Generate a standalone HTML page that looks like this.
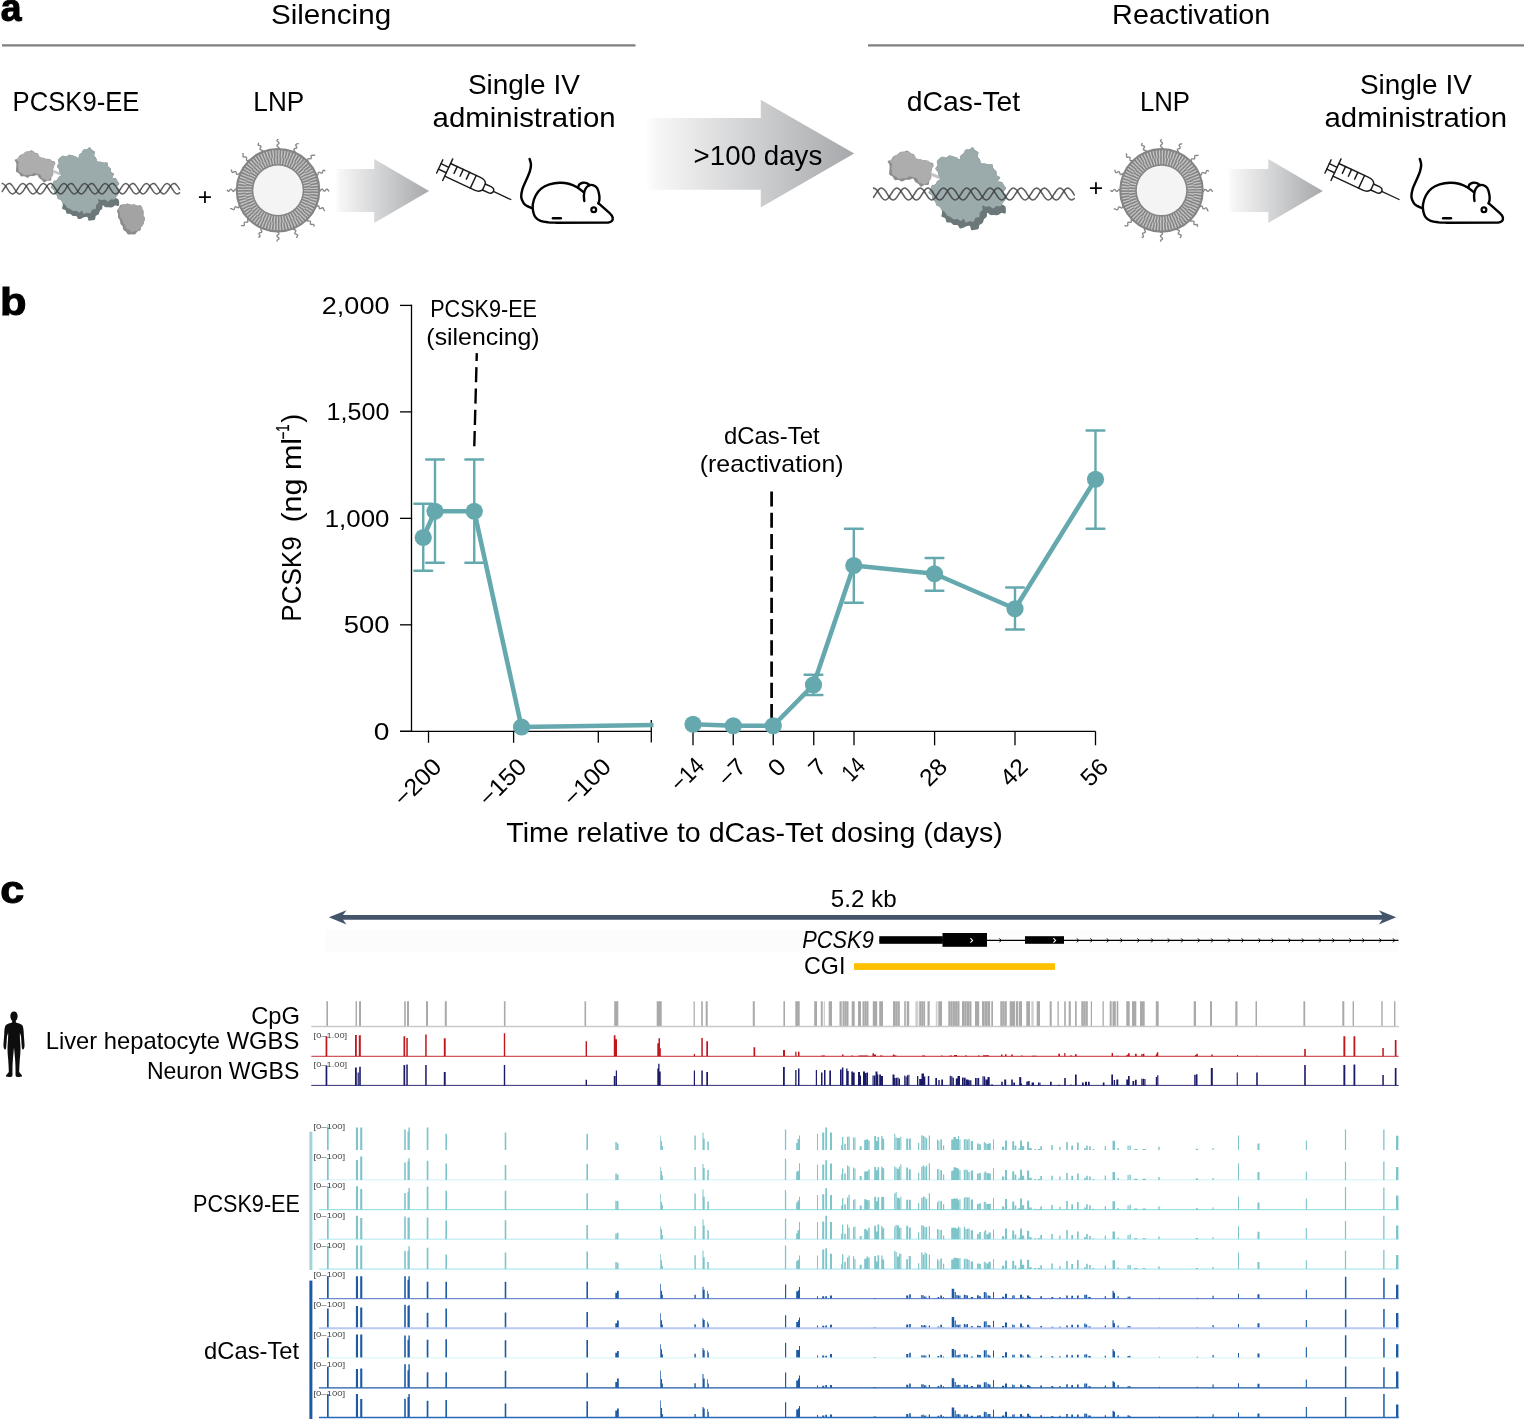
<!DOCTYPE html>
<html lang="en">
<head>
<meta charset="utf-8">
<title>PCSK9 epigenetic editing: silencing and reactivation</title>
<style>
html,body{margin:0;padding:0;background:#fff;}
body{width:1524px;height:1419px;overflow:hidden;}
svg{display:block;font-family:"Liberation Sans", "DejaVu Sans", sans-serif;}
text{white-space:pre;}
</style>
</head>
<body>
<svg width="1524" height="1419" viewBox="0 0 1524 1419">
<rect x="0" y="0" width="1524" height="1419" fill="#ffffff"/>
<defs><filter id="lblur" x="-10%" y="-10%" width="120%" height="120%"><feGaussianBlur stdDeviation="0.35"/></filter></defs>
<text x="0.71" y="21.00" font-size="38" textLength="20.76" lengthAdjust="spacingAndGlyphs" font-weight="bold" fill="#000" stroke="#000" stroke-width="1.0">a</text>
<text x="270.96" y="24.20" font-size="27.6" textLength="120.15" lengthAdjust="spacingAndGlyphs" fill="#000">Silencing</text>
<text x="1112.14" y="24.20" font-size="27.6" textLength="158.23" lengthAdjust="spacingAndGlyphs" fill="#000">Reactivation</text>
<path d="M2,45.4H635.5M868,45.4H1524" stroke="#808080" stroke-width="2.4" fill="none"/>
<text x="12.60" y="110.80" font-size="27.6" textLength="126.80" lengthAdjust="spacingAndGlyphs" fill="#000">PCSK9-EE</text>
<text x="253.36" y="110.80" font-size="27.6" textLength="50.82" lengthAdjust="spacingAndGlyphs" fill="#000">LNP</text>
<text x="467.93" y="93.80" font-size="27.6" textLength="111.89" lengthAdjust="spacingAndGlyphs" fill="#000">Single IV</text>
<text x="432.55" y="127.00" font-size="27.6" textLength="183.06" lengthAdjust="spacingAndGlyphs" fill="#000">administration</text>
<text x="906.84" y="110.80" font-size="27.6" textLength="113.36" lengthAdjust="spacingAndGlyphs" fill="#000">dCas-Tet</text>
<text x="1139.88" y="110.80" font-size="27.6" textLength="50.18" lengthAdjust="spacingAndGlyphs" fill="#000">LNP</text>
<text x="1359.93" y="93.80" font-size="27.6" textLength="111.89" lengthAdjust="spacingAndGlyphs" fill="#000">Single IV</text>
<text x="1324.55" y="127.00" font-size="27.6" textLength="182.65" lengthAdjust="spacingAndGlyphs" fill="#000">administration</text>
<g>
<path d="M52.50,170.83L61.67,174.58" stroke="#c2c2c2" stroke-width="2.6" fill="none"/>
<path d="M14.66,159.77C14.93,159.03 16.97,159.10 17.80,158.39C18.64,157.69 18.80,156.21 19.64,155.53C20.48,154.85 21.91,154.90 22.83,154.30C23.76,153.69 24.24,152.33 25.20,151.89C26.16,151.46 27.49,151.94 28.58,151.67C29.68,151.41 30.80,150.17 31.77,150.32C32.73,150.47 33.38,152.05 34.38,152.57C35.38,153.09 37.00,152.76 37.77,153.46C38.55,154.16 38.27,156.06 39.02,156.76C39.78,157.46 41.24,157.34 42.30,157.68C43.36,158.02 44.32,158.57 45.38,158.80C46.44,159.02 47.64,158.71 48.67,159.02C49.70,159.33 50.52,160.19 51.55,160.65C52.58,161.11 54.39,161.03 54.84,161.78C55.29,162.53 54.47,164.06 54.25,165.14C54.02,166.21 53.73,167.22 53.47,168.22C53.21,169.23 52.71,170.15 52.69,171.15C52.67,172.14 53.56,173.23 53.36,174.20C53.16,175.18 51.95,175.97 51.51,177.01C51.08,178.05 51.46,179.83 50.73,180.45C50.00,181.07 48.24,180.41 47.13,180.73C46.03,181.04 44.97,182.49 44.10,182.35C43.22,182.22 42.73,180.63 41.90,179.90C41.06,179.17 39.87,178.78 39.09,177.97C38.30,177.17 38.06,175.40 37.18,175.09C36.31,174.78 34.98,175.95 33.86,176.12C32.74,176.28 31.53,175.82 30.46,176.09C29.39,176.36 28.47,177.69 27.44,177.73C26.40,177.77 25.35,176.59 24.26,176.34C23.17,176.10 21.75,176.73 20.89,176.24C20.03,175.75 19.88,174.17 19.10,173.42C18.32,172.68 16.73,172.49 16.22,171.76C15.70,171.03 16.00,169.98 16.02,169.02C16.04,168.06 16.32,167.04 16.34,166.00C16.37,164.97 16.44,163.88 16.16,162.84C15.88,161.80 14.38,160.51 14.66,159.77Z" fill="#8d8d8d"/>
<path d="M16.28,159.44C16.36,158.68 18.43,158.39 19.21,157.60C19.98,156.82 20.15,155.41 20.95,154.71C21.75,154.00 23.05,153.95 23.99,153.38C24.94,152.82 25.63,151.63 26.64,151.30C27.64,150.97 28.92,151.45 30.03,151.39C31.13,151.33 32.32,150.66 33.27,150.96C34.23,151.26 34.89,152.55 35.78,153.19C36.68,153.84 37.87,154.10 38.65,154.84C39.44,155.58 39.61,157.17 40.47,157.66C41.32,158.14 42.75,157.48 43.81,157.76C44.87,158.03 45.73,159.09 46.81,159.31C47.90,159.53 49.33,158.68 50.30,159.08C51.27,159.47 51.77,160.95 52.65,161.69C53.53,162.42 55.43,162.72 55.59,163.48C55.75,164.24 54.01,165.26 53.60,166.26C53.19,167.26 53.29,168.44 53.14,169.47C52.99,170.49 52.74,171.37 52.67,172.41C52.61,173.46 53.11,174.79 52.75,175.74C52.38,176.68 51.28,177.33 50.49,178.11C49.69,178.88 48.94,180.16 48.00,180.37C47.05,180.57 45.84,179.72 44.82,179.33C43.80,178.95 42.57,178.82 41.86,178.08C41.15,177.34 41.32,175.57 40.56,174.90C39.80,174.23 38.38,174.39 37.31,174.08C36.24,173.77 35.16,172.94 34.14,173.03C33.13,173.13 32.24,174.39 31.20,174.66C30.16,174.93 29.00,174.57 27.90,174.67C26.80,174.77 25.60,175.49 24.61,175.26C23.62,175.03 22.89,173.92 21.95,173.30C21.01,172.69 19.56,172.45 18.97,171.59C18.38,170.73 18.57,169.21 18.40,168.15C18.23,167.09 17.91,166.21 17.96,165.22C18.02,164.23 18.99,163.15 18.71,162.19C18.43,161.22 16.20,160.20 16.28,159.44Z" fill="#adadad"/>
<path d="M117.01,210.77C117.14,209.74 118.28,208.89 118.86,207.91C119.44,206.93 119.64,205.39 120.49,204.91C121.35,204.42 122.87,205.22 123.98,205.00C125.10,204.78 126.10,203.60 127.17,203.58C128.25,203.57 129.31,204.80 130.43,204.90C131.55,205.00 132.78,204.02 133.87,204.18C134.96,204.34 135.88,205.69 136.98,205.88C138.08,206.07 139.65,204.94 140.49,205.34C141.32,205.75 141.44,207.32 141.97,208.32C142.50,209.31 143.47,210.24 143.66,211.32C143.84,212.40 142.89,213.73 143.09,214.80C143.28,215.88 144.63,216.73 144.82,217.77C145.00,218.81 144.40,219.93 144.17,221.02C143.95,222.11 144.00,223.36 143.49,224.32C142.97,225.28 141.61,225.81 141.10,226.80C140.59,227.79 141.07,229.45 140.42,230.27C139.77,231.09 138.13,231.04 137.22,231.72C136.30,232.40 135.88,233.95 134.93,234.35C133.99,234.76 132.70,234.14 131.56,234.15C130.42,234.16 129.04,234.84 128.10,234.42C127.17,234.01 126.74,232.48 125.94,231.68C125.13,230.89 123.84,230.55 123.28,229.66C122.72,228.77 123.02,227.36 122.56,226.36C122.10,225.36 120.97,224.67 120.52,223.66C120.07,222.65 120.27,221.34 119.86,220.31C119.45,219.27 118.36,218.49 118.06,217.45C117.75,216.41 118.20,215.19 118.03,214.07C117.85,212.96 116.87,211.79 117.01,210.77Z" fill="#8c8c8c"/>
<path d="M118.60,209.93C118.71,208.93 119.97,208.08 120.58,207.12C121.18,206.16 121.39,204.58 122.24,204.19C123.10,203.79 124.58,204.84 125.71,204.78C126.83,204.71 127.91,203.76 128.99,203.80C130.06,203.84 131.08,204.87 132.16,205.03C133.25,205.18 134.43,204.59 135.52,204.72C136.60,204.85 137.61,205.51 138.68,205.82C139.74,206.12 141.24,205.89 141.90,206.55C142.55,207.21 142.28,208.71 142.59,209.77C142.90,210.82 143.60,211.80 143.77,212.89C143.94,213.98 143.39,215.21 143.62,216.29C143.84,217.38 145.15,218.39 145.13,219.39C145.11,220.40 143.90,221.29 143.50,222.33C143.10,223.38 143.32,224.75 142.75,225.67C142.18,226.59 140.84,227.03 140.10,227.86C139.35,228.70 139.15,230.13 138.29,230.67C137.44,231.21 136.09,230.86 134.98,231.09C133.87,231.32 132.62,232.30 131.65,232.06C130.68,231.82 130.07,230.30 129.15,229.66C128.23,229.02 126.77,229.01 126.10,228.23C125.44,227.45 125.68,225.95 125.16,224.98C124.63,224.01 123.46,223.41 122.96,222.42C122.47,221.43 122.74,220.03 122.20,219.06C121.66,218.09 120.12,217.59 119.74,216.61C119.36,215.62 120.13,214.27 119.94,213.15C119.75,212.04 118.50,210.94 118.60,209.93Z" fill="#a3a3a3"/>
<path d="M89.75,147.52C90.58,147.66 91.01,149.35 91.85,150.09C92.70,150.83 94.43,151.05 94.81,151.96C95.19,152.88 93.89,154.52 94.15,155.59C94.40,156.66 95.80,157.39 96.32,158.41C96.84,159.42 96.55,161.14 97.28,161.70C98.01,162.25 99.61,161.57 100.71,161.73C101.81,161.90 102.80,162.50 103.89,162.67C104.99,162.85 106.56,162.21 107.27,162.79C107.98,163.37 107.60,165.20 108.15,166.17C108.71,167.14 110.11,167.63 110.60,168.60C111.10,169.58 110.56,171.13 111.14,172.04C111.72,172.95 113.91,173.16 114.08,174.05C114.24,174.95 111.85,176.74 112.11,177.42C112.37,178.10 114.77,177.56 115.64,178.16C116.51,178.76 116.76,180.11 117.34,181.04C117.92,181.97 119.14,182.81 119.11,183.74C119.08,184.68 117.15,185.72 117.14,186.64C117.14,187.57 118.69,188.38 119.06,189.29C119.44,190.20 119.61,191.17 119.40,192.11C119.19,193.05 118.44,194.04 117.79,194.93C117.15,195.81 115.42,196.67 115.54,197.43C115.65,198.19 117.89,198.62 118.49,199.49C119.09,200.35 119.12,201.53 119.15,202.61C119.18,203.69 119.35,205.49 118.67,205.97C117.99,206.45 116.16,205.26 115.08,205.48C114.01,205.71 113.23,207.04 112.20,207.32C111.18,207.60 110.03,207.18 108.93,207.17C107.83,207.15 106.65,207.57 105.61,207.24C104.56,206.91 103.22,204.96 102.66,205.18C102.11,205.41 102.76,207.62 102.28,208.60C101.80,209.57 100.40,210.07 99.80,211.01C99.21,211.96 99.36,213.43 98.69,214.26C98.02,215.09 96.42,215.14 95.79,216.00C95.17,216.85 95.61,218.67 94.94,219.39C94.27,220.11 92.82,220.14 91.77,220.31C90.72,220.49 89.39,220.99 88.65,220.43C87.91,219.86 88.12,217.42 87.32,216.90C86.52,216.39 84.90,217.03 83.86,217.33C82.82,217.62 81.99,218.40 81.06,218.67C80.14,218.94 79.10,219.35 78.32,218.93C77.55,218.52 77.28,216.64 76.40,216.16C75.52,215.69 74.05,216.44 73.04,216.08C72.02,215.71 71.34,214.39 70.30,213.98C69.26,213.57 67.59,214.25 66.79,213.61C65.99,212.97 66.24,210.98 65.49,210.16C64.73,209.33 62.72,209.40 62.26,208.66C61.79,207.91 62.65,206.63 62.70,205.69C62.74,204.75 62.83,203.94 62.53,203.01C62.23,202.07 61.69,200.83 60.90,200.10C60.11,199.37 58.49,199.41 57.80,198.62C57.11,197.83 57.32,196.31 56.75,195.37C56.18,194.44 54.91,193.94 54.39,193.00C53.87,192.07 54.19,190.67 53.61,189.75C53.02,188.84 51.05,188.37 50.88,187.51C50.70,186.66 52.11,185.63 52.57,184.61C53.02,183.59 52.91,182.14 53.62,181.39C54.33,180.64 56.01,180.80 56.85,180.10C57.68,179.39 57.83,177.95 58.62,177.15C59.40,176.35 61.37,176.12 61.57,175.31C61.76,174.50 60.26,173.33 59.80,172.30C59.35,171.26 59.30,170.09 58.83,169.10C58.35,168.10 56.94,167.28 56.94,166.32C56.93,165.36 58.62,164.40 58.82,163.35C59.01,162.30 57.89,160.96 58.12,160.00C58.35,159.05 59.40,158.35 60.20,157.64C61.00,156.93 61.90,155.92 62.92,155.73C63.93,155.54 65.25,156.68 66.30,156.51C67.36,156.34 68.23,154.88 69.24,154.71C70.26,154.54 71.36,155.23 72.41,155.51C73.45,155.78 74.55,155.95 75.53,156.38C76.51,156.80 77.67,158.33 78.29,158.05C78.91,157.77 78.67,155.57 79.23,154.69C79.80,153.82 80.99,153.64 81.68,152.81C82.38,151.98 82.54,150.33 83.40,149.73C84.27,149.14 85.82,149.62 86.88,149.25C87.93,148.88 88.92,147.38 89.75,147.52Z" fill="#6c7779"/>
<path d="M89.92,147.10C90.69,147.28 90.69,149.60 91.52,150.41C92.34,151.22 94.43,151.08 94.86,151.94C95.29,152.81 93.91,154.52 94.09,155.61C94.27,156.70 95.36,157.53 95.93,158.49C96.50,159.45 96.70,160.81 97.50,161.37C98.30,161.93 99.66,161.63 100.73,161.83C101.79,162.03 102.80,162.44 103.92,162.58C105.04,162.72 106.75,162.06 107.43,162.68C108.11,163.30 107.45,165.31 108.00,166.30C108.56,167.28 110.26,167.61 110.77,168.59C111.28,169.58 110.52,171.28 111.07,172.19C111.62,173.11 113.91,173.22 114.08,174.10C114.26,174.98 111.87,176.75 112.12,177.47C112.37,178.19 114.68,177.85 115.59,178.43C116.51,179.01 116.97,180.03 117.60,180.94C118.23,181.86 119.49,182.99 119.36,183.95C119.24,184.90 116.85,185.80 116.85,186.67C116.85,187.53 118.98,188.24 119.36,189.13C119.73,190.02 119.38,191.04 119.09,192.00C118.80,192.96 118.17,193.99 117.64,194.90C117.11,195.81 116.48,196.68 115.91,197.45C115.35,198.22 115.09,199.20 114.25,199.52C113.41,199.85 111.90,199.08 110.87,199.39C109.84,199.70 109.03,201.35 108.05,201.39C107.07,201.44 106.07,199.89 104.99,199.66C103.91,199.43 102.71,200.12 101.58,200.01C100.44,199.90 98.68,198.57 98.18,198.99C97.69,199.42 98.93,201.51 98.59,202.54C98.25,203.56 96.63,204.12 96.15,205.15C95.66,206.19 96.36,207.97 95.70,208.75C95.03,209.53 93.01,209.10 92.16,209.84C91.31,210.57 91.45,212.67 90.60,213.17C89.74,213.67 88.17,212.71 87.04,212.82C85.90,212.93 84.66,214.15 83.79,213.83C82.91,213.50 82.56,211.06 81.81,210.86C81.07,210.67 80.24,212.66 79.34,212.65C78.43,212.65 77.44,211.12 76.37,210.84C75.31,210.57 73.96,211.31 72.94,211.02C71.93,210.73 71.22,209.63 70.27,209.08C69.32,208.52 68.05,208.38 67.24,207.69C66.43,207.00 66.18,205.69 65.41,204.94C64.64,204.18 63.39,203.91 62.62,203.14C61.86,202.38 61.62,201.10 60.82,200.36C60.03,199.62 58.52,199.53 57.85,198.71C57.19,197.89 57.41,196.36 56.82,195.44C56.22,194.51 54.79,194.10 54.28,193.16C53.78,192.22 54.38,190.68 53.81,189.78C53.24,188.87 51.07,188.57 50.86,187.72C50.66,186.88 52.18,185.80 52.60,184.72C53.02,183.65 52.65,182.02 53.37,181.29C54.10,180.56 56.08,181.03 56.94,180.34C57.81,179.66 57.78,178.01 58.55,177.18C59.32,176.36 61.37,176.17 61.56,175.38C61.75,174.59 60.10,173.51 59.68,172.45C59.26,171.40 59.47,170.06 59.01,169.05C58.56,168.03 56.96,167.32 56.93,166.37C56.89,165.43 58.59,164.45 58.81,163.40C59.03,162.35 58.01,161.04 58.22,160.06C58.44,159.09 59.33,158.28 60.10,157.58C60.88,156.87 61.86,156.00 62.89,155.81C63.91,155.62 65.20,156.61 66.26,156.44C67.31,156.27 68.21,154.97 69.23,154.80C70.26,154.63 71.33,155.19 72.40,155.42C73.48,155.64 74.68,155.67 75.68,156.15C76.67,156.63 77.81,158.56 78.39,158.31C78.97,158.06 78.59,155.57 79.15,154.66C79.70,153.76 81.03,153.71 81.73,152.88C82.44,152.05 82.50,150.28 83.36,149.68C84.23,149.08 85.81,149.74 86.91,149.31C88.00,148.88 89.15,146.92 89.92,147.10Z" fill="#9baaab"/>
<path d="M2.20,183.40C2.63,183.66 3.92,184.07 4.78,184.95C5.63,185.84 6.49,187.45 7.35,188.70C8.21,189.95 9.07,191.56 9.93,192.45C10.78,193.33 11.64,194.00 12.50,194.00C13.36,194.00 14.22,193.33 15.07,192.45C15.93,191.56 16.79,189.95 17.65,188.70C18.51,187.45 19.37,185.84 20.23,184.95C21.08,184.07 21.94,183.40 22.80,183.40C23.66,183.40 24.52,184.07 25.38,184.95C26.23,185.84 27.09,187.45 27.95,188.70C28.81,189.95 29.67,191.56 30.53,192.45C31.38,193.33 32.24,194.00 33.10,194.00C33.96,194.00 34.82,193.33 35.68,192.45C36.53,191.56 37.39,189.95 38.25,188.70C39.11,187.45 39.97,185.84 40.83,184.95C41.68,184.07 42.54,183.40 43.40,183.40C44.26,183.40 45.12,184.07 45.98,184.95C46.83,185.84 47.69,187.45 48.55,188.70C49.41,189.95 50.27,191.56 51.13,192.45C51.98,193.33 52.84,194.00 53.70,194.00C54.56,194.00 55.42,193.33 56.28,192.45C57.13,191.56 57.99,189.95 58.85,188.70C59.71,187.45 60.57,185.84 61.43,184.95C62.28,184.07 63.14,183.40 64.00,183.40C64.86,183.40 65.72,184.07 66.58,184.95C67.43,185.84 68.29,187.45 69.15,188.70C70.01,189.95 70.87,191.56 71.73,192.45C72.58,193.33 73.44,194.00 74.30,194.00C75.16,194.00 76.02,193.33 76.88,192.45C77.73,191.56 78.59,189.95 79.45,188.70C80.31,187.45 81.17,185.84 82.03,184.95C82.88,184.07 83.74,183.40 84.60,183.40C85.46,183.40 86.32,184.07 87.18,184.95C88.03,185.84 88.89,187.45 89.75,188.70C90.61,189.95 91.47,191.56 92.33,192.45C93.18,193.33 94.04,194.00 94.90,194.00C95.76,194.00 96.62,193.33 97.48,192.45C98.33,191.56 99.19,189.95 100.05,188.70C100.91,187.45 101.77,185.84 102.63,184.95C103.48,184.07 104.34,183.40 105.20,183.40C106.06,183.40 106.92,184.07 107.78,184.95C108.63,185.84 109.49,187.45 110.35,188.70C111.21,189.95 112.07,191.56 112.93,192.45C113.78,193.33 114.64,194.00 115.50,194.00C116.36,194.00 117.22,193.33 118.08,192.45C118.93,191.56 119.79,189.95 120.65,188.70C121.51,187.45 122.37,185.84 123.23,184.95C124.08,184.07 124.94,183.40 125.80,183.40C126.66,183.40 127.52,184.07 128.38,184.95C129.23,185.84 130.09,187.45 130.95,188.70C131.81,189.95 132.67,191.56 133.53,192.45C134.38,193.33 135.24,194.00 136.10,194.00C136.96,194.00 137.82,193.33 138.68,192.45C139.53,191.56 140.39,189.95 141.25,188.70C142.11,187.45 142.97,185.84 143.82,184.95C144.68,184.07 145.54,183.40 146.40,183.40C147.26,183.40 148.12,184.07 148.97,184.95C149.83,185.84 150.69,187.45 151.55,188.70C152.41,189.95 153.27,191.56 154.12,192.45C154.98,193.33 155.84,194.00 156.70,194.00C157.56,194.00 158.42,193.33 159.28,192.45C160.13,191.56 160.99,189.95 161.85,188.70C162.71,187.45 163.57,185.84 164.43,184.95C165.28,184.07 166.14,183.40 167.00,183.40C167.86,183.40 168.72,184.07 169.57,184.95C170.43,185.84 171.29,187.45 172.15,188.70C173.01,189.95 173.87,191.56 174.72,192.45C175.58,193.33 176.49,193.95 177.30,194.00C178.11,194.05 179.22,192.96 179.60,192.75" fill="none" stroke="#3c3c3c" stroke-width="1.5" stroke-opacity="0.82" stroke-linecap="round"/>
<path d="M2.20,191.53C2.63,190.87 3.92,188.76 4.78,187.54C5.63,186.32 6.49,184.89 7.35,184.22C8.21,183.55 9.07,183.26 9.93,183.53C10.78,183.80 11.64,184.81 12.50,185.87C13.36,186.92 14.22,188.64 15.07,189.86C15.93,191.08 16.79,192.51 17.65,193.18C18.51,193.85 19.37,194.14 20.23,193.87C21.08,193.60 21.94,192.59 22.80,191.53C23.66,190.48 24.52,188.76 25.38,187.54C26.23,186.32 27.09,184.89 27.95,184.22C28.81,183.55 29.67,183.26 30.53,183.53C31.38,183.80 32.24,184.81 33.10,185.87C33.96,186.92 34.82,188.64 35.68,189.86C36.53,191.08 37.39,192.51 38.25,193.18C39.11,193.85 39.97,194.14 40.83,193.87C41.68,193.60 42.54,192.59 43.40,191.53C44.26,190.48 45.12,188.76 45.98,187.54C46.83,186.32 47.69,184.89 48.55,184.22C49.41,183.55 50.27,183.26 51.13,183.53C51.98,183.80 52.84,184.81 53.70,185.87C54.56,186.92 55.42,188.64 56.28,189.86C57.13,191.08 57.99,192.51 58.85,193.18C59.71,193.85 60.57,194.14 61.43,193.87C62.28,193.60 63.14,192.59 64.00,191.53C64.86,190.48 65.72,188.76 66.58,187.54C67.43,186.32 68.29,184.89 69.15,184.22C70.01,183.55 70.87,183.26 71.73,183.53C72.58,183.80 73.44,184.81 74.30,185.87C75.16,186.92 76.02,188.64 76.88,189.86C77.73,191.08 78.59,192.51 79.45,193.18C80.31,193.85 81.17,194.14 82.03,193.87C82.88,193.60 83.74,192.59 84.60,191.53C85.46,190.48 86.32,188.76 87.18,187.54C88.03,186.32 88.89,184.89 89.75,184.22C90.61,183.55 91.47,183.26 92.33,183.53C93.18,183.80 94.04,184.81 94.90,185.87C95.76,186.92 96.62,188.64 97.48,189.86C98.33,191.08 99.19,192.51 100.05,193.18C100.91,193.85 101.77,194.14 102.63,193.87C103.48,193.60 104.34,192.59 105.20,191.53C106.06,190.48 106.92,188.76 107.78,187.54C108.63,186.32 109.49,184.89 110.35,184.22C111.21,183.55 112.07,183.26 112.93,183.53C113.78,183.80 114.64,184.81 115.50,185.87C116.36,186.92 117.22,188.64 118.08,189.86C118.93,191.08 119.79,192.51 120.65,193.18C121.51,193.85 122.37,194.14 123.23,193.87C124.08,193.60 124.94,192.59 125.80,191.53C126.66,190.48 127.52,188.76 128.38,187.54C129.23,186.32 130.09,184.89 130.95,184.22C131.81,183.55 132.67,183.26 133.53,183.53C134.38,183.80 135.24,184.81 136.10,185.87C136.96,186.92 137.82,188.64 138.68,189.86C139.53,191.08 140.39,192.51 141.25,193.18C142.11,193.85 142.97,194.14 143.82,193.87C144.68,193.60 145.54,192.59 146.40,191.53C147.26,190.48 148.12,188.76 148.97,187.54C149.83,186.32 150.69,184.89 151.55,184.22C152.41,183.55 153.27,183.26 154.12,183.53C154.98,183.80 155.84,184.81 156.70,185.87C157.56,186.92 158.42,188.64 159.28,189.86C160.13,191.08 160.99,192.51 161.85,193.18C162.71,193.85 163.57,194.14 164.43,193.87C165.28,193.60 166.14,192.59 167.00,191.53C167.86,190.48 168.72,188.76 169.57,187.54C170.43,186.32 171.29,184.89 172.15,184.22C173.01,183.55 173.87,183.26 174.72,183.53C175.58,183.80 176.49,184.88 177.30,185.87C178.11,186.85 179.22,188.83 179.60,189.43" fill="none" stroke="#3c3c3c" stroke-width="1.5" stroke-opacity="0.82" stroke-linecap="round"/>
</g>
<text x="197.79" y="205.01" font-size="24.7" textLength="14.42" lengthAdjust="spacingAndGlyphs" fill="#000">+</text>
<g transform="translate(871.1,-19.4) scale(1.131)">
<path d="M52.50,170.83L61.67,174.58" stroke="#c2c2c2" stroke-width="2.6" fill="none"/>
<path d="M14.66,159.77C14.93,159.03 16.97,159.10 17.80,158.39C18.64,157.69 18.80,156.21 19.64,155.53C20.48,154.85 21.91,154.90 22.83,154.30C23.76,153.69 24.24,152.33 25.20,151.89C26.16,151.46 27.49,151.94 28.58,151.67C29.68,151.41 30.80,150.17 31.77,150.32C32.73,150.47 33.38,152.05 34.38,152.57C35.38,153.09 37.00,152.76 37.77,153.46C38.55,154.16 38.27,156.06 39.02,156.76C39.78,157.46 41.24,157.34 42.30,157.68C43.36,158.02 44.32,158.57 45.38,158.80C46.44,159.02 47.64,158.71 48.67,159.02C49.70,159.33 50.52,160.19 51.55,160.65C52.58,161.11 54.39,161.03 54.84,161.78C55.29,162.53 54.47,164.06 54.25,165.14C54.02,166.21 53.73,167.22 53.47,168.22C53.21,169.23 52.71,170.15 52.69,171.15C52.67,172.14 53.56,173.23 53.36,174.20C53.16,175.18 51.95,175.97 51.51,177.01C51.08,178.05 51.46,179.83 50.73,180.45C50.00,181.07 48.24,180.41 47.13,180.73C46.03,181.04 44.97,182.49 44.10,182.35C43.22,182.22 42.73,180.63 41.90,179.90C41.06,179.17 39.87,178.78 39.09,177.97C38.30,177.17 38.06,175.40 37.18,175.09C36.31,174.78 34.98,175.95 33.86,176.12C32.74,176.28 31.53,175.82 30.46,176.09C29.39,176.36 28.47,177.69 27.44,177.73C26.40,177.77 25.35,176.59 24.26,176.34C23.17,176.10 21.75,176.73 20.89,176.24C20.03,175.75 19.88,174.17 19.10,173.42C18.32,172.68 16.73,172.49 16.22,171.76C15.70,171.03 16.00,169.98 16.02,169.02C16.04,168.06 16.32,167.04 16.34,166.00C16.37,164.97 16.44,163.88 16.16,162.84C15.88,161.80 14.38,160.51 14.66,159.77Z" fill="#8d8d8d"/>
<path d="M16.28,159.44C16.36,158.68 18.43,158.39 19.21,157.60C19.98,156.82 20.15,155.41 20.95,154.71C21.75,154.00 23.05,153.95 23.99,153.38C24.94,152.82 25.63,151.63 26.64,151.30C27.64,150.97 28.92,151.45 30.03,151.39C31.13,151.33 32.32,150.66 33.27,150.96C34.23,151.26 34.89,152.55 35.78,153.19C36.68,153.84 37.87,154.10 38.65,154.84C39.44,155.58 39.61,157.17 40.47,157.66C41.32,158.14 42.75,157.48 43.81,157.76C44.87,158.03 45.73,159.09 46.81,159.31C47.90,159.53 49.33,158.68 50.30,159.08C51.27,159.47 51.77,160.95 52.65,161.69C53.53,162.42 55.43,162.72 55.59,163.48C55.75,164.24 54.01,165.26 53.60,166.26C53.19,167.26 53.29,168.44 53.14,169.47C52.99,170.49 52.74,171.37 52.67,172.41C52.61,173.46 53.11,174.79 52.75,175.74C52.38,176.68 51.28,177.33 50.49,178.11C49.69,178.88 48.94,180.16 48.00,180.37C47.05,180.57 45.84,179.72 44.82,179.33C43.80,178.95 42.57,178.82 41.86,178.08C41.15,177.34 41.32,175.57 40.56,174.90C39.80,174.23 38.38,174.39 37.31,174.08C36.24,173.77 35.16,172.94 34.14,173.03C33.13,173.13 32.24,174.39 31.20,174.66C30.16,174.93 29.00,174.57 27.90,174.67C26.80,174.77 25.60,175.49 24.61,175.26C23.62,175.03 22.89,173.92 21.95,173.30C21.01,172.69 19.56,172.45 18.97,171.59C18.38,170.73 18.57,169.21 18.40,168.15C18.23,167.09 17.91,166.21 17.96,165.22C18.02,164.23 18.99,163.15 18.71,162.19C18.43,161.22 16.20,160.20 16.28,159.44Z" fill="#adadad"/>
<path d="M89.75,147.52C90.58,147.66 91.01,149.35 91.85,150.09C92.70,150.83 94.43,151.05 94.81,151.96C95.19,152.88 93.89,154.52 94.15,155.59C94.40,156.66 95.80,157.39 96.32,158.41C96.84,159.42 96.55,161.14 97.28,161.70C98.01,162.25 99.61,161.57 100.71,161.73C101.81,161.90 102.80,162.50 103.89,162.67C104.99,162.85 106.56,162.21 107.27,162.79C107.98,163.37 107.60,165.20 108.15,166.17C108.71,167.14 110.11,167.63 110.60,168.60C111.10,169.58 110.56,171.13 111.14,172.04C111.72,172.95 113.91,173.16 114.08,174.05C114.24,174.95 111.85,176.74 112.11,177.42C112.37,178.10 114.77,177.56 115.64,178.16C116.51,178.76 116.76,180.11 117.34,181.04C117.92,181.97 119.14,182.81 119.11,183.74C119.08,184.68 117.15,185.72 117.14,186.64C117.14,187.57 118.69,188.38 119.06,189.29C119.44,190.20 119.61,191.17 119.40,192.11C119.19,193.05 118.44,194.04 117.79,194.93C117.15,195.81 115.42,196.67 115.54,197.43C115.65,198.19 117.89,198.62 118.49,199.49C119.09,200.35 119.12,201.53 119.15,202.61C119.18,203.69 119.35,205.49 118.67,205.97C117.99,206.45 116.16,205.26 115.08,205.48C114.01,205.71 113.23,207.04 112.20,207.32C111.18,207.60 110.03,207.18 108.93,207.17C107.83,207.15 106.65,207.57 105.61,207.24C104.56,206.91 103.22,204.96 102.66,205.18C102.11,205.41 102.76,207.62 102.28,208.60C101.80,209.57 100.40,210.07 99.80,211.01C99.21,211.96 99.36,213.43 98.69,214.26C98.02,215.09 96.42,215.14 95.79,216.00C95.17,216.85 95.61,218.67 94.94,219.39C94.27,220.11 92.82,220.14 91.77,220.31C90.72,220.49 89.39,220.99 88.65,220.43C87.91,219.86 88.12,217.42 87.32,216.90C86.52,216.39 84.90,217.03 83.86,217.33C82.82,217.62 81.99,218.40 81.06,218.67C80.14,218.94 79.10,219.35 78.32,218.93C77.55,218.52 77.28,216.64 76.40,216.16C75.52,215.69 74.05,216.44 73.04,216.08C72.02,215.71 71.34,214.39 70.30,213.98C69.26,213.57 67.59,214.25 66.79,213.61C65.99,212.97 66.24,210.98 65.49,210.16C64.73,209.33 62.72,209.40 62.26,208.66C61.79,207.91 62.65,206.63 62.70,205.69C62.74,204.75 62.83,203.94 62.53,203.01C62.23,202.07 61.69,200.83 60.90,200.10C60.11,199.37 58.49,199.41 57.80,198.62C57.11,197.83 57.32,196.31 56.75,195.37C56.18,194.44 54.91,193.94 54.39,193.00C53.87,192.07 54.19,190.67 53.61,189.75C53.02,188.84 51.05,188.37 50.88,187.51C50.70,186.66 52.11,185.63 52.57,184.61C53.02,183.59 52.91,182.14 53.62,181.39C54.33,180.64 56.01,180.80 56.85,180.10C57.68,179.39 57.83,177.95 58.62,177.15C59.40,176.35 61.37,176.12 61.57,175.31C61.76,174.50 60.26,173.33 59.80,172.30C59.35,171.26 59.30,170.09 58.83,169.10C58.35,168.10 56.94,167.28 56.94,166.32C56.93,165.36 58.62,164.40 58.82,163.35C59.01,162.30 57.89,160.96 58.12,160.00C58.35,159.05 59.40,158.35 60.20,157.64C61.00,156.93 61.90,155.92 62.92,155.73C63.93,155.54 65.25,156.68 66.30,156.51C67.36,156.34 68.23,154.88 69.24,154.71C70.26,154.54 71.36,155.23 72.41,155.51C73.45,155.78 74.55,155.95 75.53,156.38C76.51,156.80 77.67,158.33 78.29,158.05C78.91,157.77 78.67,155.57 79.23,154.69C79.80,153.82 80.99,153.64 81.68,152.81C82.38,151.98 82.54,150.33 83.40,149.73C84.27,149.14 85.82,149.62 86.88,149.25C87.93,148.88 88.92,147.38 89.75,147.52Z" fill="#6c7779"/>
<path d="M89.92,147.10C90.69,147.28 90.69,149.60 91.52,150.41C92.34,151.22 94.43,151.08 94.86,151.94C95.29,152.81 93.91,154.52 94.09,155.61C94.27,156.70 95.36,157.53 95.93,158.49C96.50,159.45 96.70,160.81 97.50,161.37C98.30,161.93 99.66,161.63 100.73,161.83C101.79,162.03 102.80,162.44 103.92,162.58C105.04,162.72 106.75,162.06 107.43,162.68C108.11,163.30 107.45,165.31 108.00,166.30C108.56,167.28 110.26,167.61 110.77,168.59C111.28,169.58 110.52,171.28 111.07,172.19C111.62,173.11 113.91,173.22 114.08,174.10C114.26,174.98 111.87,176.75 112.12,177.47C112.37,178.19 114.68,177.85 115.59,178.43C116.51,179.01 116.97,180.03 117.60,180.94C118.23,181.86 119.49,182.99 119.36,183.95C119.24,184.90 116.85,185.80 116.85,186.67C116.85,187.53 118.98,188.24 119.36,189.13C119.73,190.02 119.38,191.04 119.09,192.00C118.80,192.96 118.17,193.99 117.64,194.90C117.11,195.81 116.48,196.68 115.91,197.45C115.35,198.22 115.09,199.20 114.25,199.52C113.41,199.85 111.90,199.08 110.87,199.39C109.84,199.70 109.03,201.35 108.05,201.39C107.07,201.44 106.07,199.89 104.99,199.66C103.91,199.43 102.71,200.12 101.58,200.01C100.44,199.90 98.68,198.57 98.18,198.99C97.69,199.42 98.93,201.51 98.59,202.54C98.25,203.56 96.63,204.12 96.15,205.15C95.66,206.19 96.36,207.97 95.70,208.75C95.03,209.53 93.01,209.10 92.16,209.84C91.31,210.57 91.45,212.67 90.60,213.17C89.74,213.67 88.17,212.71 87.04,212.82C85.90,212.93 84.66,214.15 83.79,213.83C82.91,213.50 82.56,211.06 81.81,210.86C81.07,210.67 80.24,212.66 79.34,212.65C78.43,212.65 77.44,211.12 76.37,210.84C75.31,210.57 73.96,211.31 72.94,211.02C71.93,210.73 71.22,209.63 70.27,209.08C69.32,208.52 68.05,208.38 67.24,207.69C66.43,207.00 66.18,205.69 65.41,204.94C64.64,204.18 63.39,203.91 62.62,203.14C61.86,202.38 61.62,201.10 60.82,200.36C60.03,199.62 58.52,199.53 57.85,198.71C57.19,197.89 57.41,196.36 56.82,195.44C56.22,194.51 54.79,194.10 54.28,193.16C53.78,192.22 54.38,190.68 53.81,189.78C53.24,188.87 51.07,188.57 50.86,187.72C50.66,186.88 52.18,185.80 52.60,184.72C53.02,183.65 52.65,182.02 53.37,181.29C54.10,180.56 56.08,181.03 56.94,180.34C57.81,179.66 57.78,178.01 58.55,177.18C59.32,176.36 61.37,176.17 61.56,175.38C61.75,174.59 60.10,173.51 59.68,172.45C59.26,171.40 59.47,170.06 59.01,169.05C58.56,168.03 56.96,167.32 56.93,166.37C56.89,165.43 58.59,164.45 58.81,163.40C59.03,162.35 58.01,161.04 58.22,160.06C58.44,159.09 59.33,158.28 60.10,157.58C60.88,156.87 61.86,156.00 62.89,155.81C63.91,155.62 65.20,156.61 66.26,156.44C67.31,156.27 68.21,154.97 69.23,154.80C70.26,154.63 71.33,155.19 72.40,155.42C73.48,155.64 74.68,155.67 75.68,156.15C76.67,156.63 77.81,158.56 78.39,158.31C78.97,158.06 78.59,155.57 79.15,154.66C79.70,153.76 81.03,153.71 81.73,152.88C82.44,152.05 82.50,150.28 83.36,149.68C84.23,149.08 85.81,149.74 86.91,149.31C88.00,148.88 89.15,146.92 89.92,147.10Z" fill="#9baaab"/>
<path d="M2.20,183.40C2.63,183.66 3.92,184.07 4.78,184.95C5.63,185.84 6.49,187.45 7.35,188.70C8.21,189.95 9.07,191.56 9.93,192.45C10.78,193.33 11.64,194.00 12.50,194.00C13.36,194.00 14.22,193.33 15.07,192.45C15.93,191.56 16.79,189.95 17.65,188.70C18.51,187.45 19.37,185.84 20.23,184.95C21.08,184.07 21.94,183.40 22.80,183.40C23.66,183.40 24.52,184.07 25.38,184.95C26.23,185.84 27.09,187.45 27.95,188.70C28.81,189.95 29.67,191.56 30.53,192.45C31.38,193.33 32.24,194.00 33.10,194.00C33.96,194.00 34.82,193.33 35.68,192.45C36.53,191.56 37.39,189.95 38.25,188.70C39.11,187.45 39.97,185.84 40.83,184.95C41.68,184.07 42.54,183.40 43.40,183.40C44.26,183.40 45.12,184.07 45.98,184.95C46.83,185.84 47.69,187.45 48.55,188.70C49.41,189.95 50.27,191.56 51.13,192.45C51.98,193.33 52.84,194.00 53.70,194.00C54.56,194.00 55.42,193.33 56.28,192.45C57.13,191.56 57.99,189.95 58.85,188.70C59.71,187.45 60.57,185.84 61.43,184.95C62.28,184.07 63.14,183.40 64.00,183.40C64.86,183.40 65.72,184.07 66.58,184.95C67.43,185.84 68.29,187.45 69.15,188.70C70.01,189.95 70.87,191.56 71.73,192.45C72.58,193.33 73.44,194.00 74.30,194.00C75.16,194.00 76.02,193.33 76.88,192.45C77.73,191.56 78.59,189.95 79.45,188.70C80.31,187.45 81.17,185.84 82.03,184.95C82.88,184.07 83.74,183.40 84.60,183.40C85.46,183.40 86.32,184.07 87.18,184.95C88.03,185.84 88.89,187.45 89.75,188.70C90.61,189.95 91.47,191.56 92.33,192.45C93.18,193.33 94.04,194.00 94.90,194.00C95.76,194.00 96.62,193.33 97.48,192.45C98.33,191.56 99.19,189.95 100.05,188.70C100.91,187.45 101.77,185.84 102.63,184.95C103.48,184.07 104.34,183.40 105.20,183.40C106.06,183.40 106.92,184.07 107.78,184.95C108.63,185.84 109.49,187.45 110.35,188.70C111.21,189.95 112.07,191.56 112.93,192.45C113.78,193.33 114.64,194.00 115.50,194.00C116.36,194.00 117.22,193.33 118.08,192.45C118.93,191.56 119.79,189.95 120.65,188.70C121.51,187.45 122.37,185.84 123.23,184.95C124.08,184.07 124.94,183.40 125.80,183.40C126.66,183.40 127.52,184.07 128.38,184.95C129.23,185.84 130.09,187.45 130.95,188.70C131.81,189.95 132.67,191.56 133.53,192.45C134.38,193.33 135.24,194.00 136.10,194.00C136.96,194.00 137.82,193.33 138.68,192.45C139.53,191.56 140.39,189.95 141.25,188.70C142.11,187.45 142.97,185.84 143.82,184.95C144.68,184.07 145.54,183.40 146.40,183.40C147.26,183.40 148.12,184.07 148.97,184.95C149.83,185.84 150.69,187.45 151.55,188.70C152.41,189.95 153.27,191.56 154.12,192.45C154.98,193.33 155.84,194.00 156.70,194.00C157.56,194.00 158.42,193.33 159.28,192.45C160.13,191.56 160.99,189.95 161.85,188.70C162.71,187.45 163.57,185.84 164.43,184.95C165.28,184.07 166.14,183.40 167.00,183.40C167.86,183.40 168.72,184.07 169.57,184.95C170.43,185.84 171.29,187.45 172.15,188.70C173.01,189.95 173.87,191.56 174.72,192.45C175.58,193.33 176.49,193.95 177.30,194.00C178.11,194.05 179.22,192.96 179.60,192.75" fill="none" stroke="#3c3c3c" stroke-width="1.4" stroke-opacity="0.82" stroke-linecap="round"/>
<path d="M2.20,191.53C2.63,190.87 3.92,188.76 4.78,187.54C5.63,186.32 6.49,184.89 7.35,184.22C8.21,183.55 9.07,183.26 9.93,183.53C10.78,183.80 11.64,184.81 12.50,185.87C13.36,186.92 14.22,188.64 15.07,189.86C15.93,191.08 16.79,192.51 17.65,193.18C18.51,193.85 19.37,194.14 20.23,193.87C21.08,193.60 21.94,192.59 22.80,191.53C23.66,190.48 24.52,188.76 25.38,187.54C26.23,186.32 27.09,184.89 27.95,184.22C28.81,183.55 29.67,183.26 30.53,183.53C31.38,183.80 32.24,184.81 33.10,185.87C33.96,186.92 34.82,188.64 35.68,189.86C36.53,191.08 37.39,192.51 38.25,193.18C39.11,193.85 39.97,194.14 40.83,193.87C41.68,193.60 42.54,192.59 43.40,191.53C44.26,190.48 45.12,188.76 45.98,187.54C46.83,186.32 47.69,184.89 48.55,184.22C49.41,183.55 50.27,183.26 51.13,183.53C51.98,183.80 52.84,184.81 53.70,185.87C54.56,186.92 55.42,188.64 56.28,189.86C57.13,191.08 57.99,192.51 58.85,193.18C59.71,193.85 60.57,194.14 61.43,193.87C62.28,193.60 63.14,192.59 64.00,191.53C64.86,190.48 65.72,188.76 66.58,187.54C67.43,186.32 68.29,184.89 69.15,184.22C70.01,183.55 70.87,183.26 71.73,183.53C72.58,183.80 73.44,184.81 74.30,185.87C75.16,186.92 76.02,188.64 76.88,189.86C77.73,191.08 78.59,192.51 79.45,193.18C80.31,193.85 81.17,194.14 82.03,193.87C82.88,193.60 83.74,192.59 84.60,191.53C85.46,190.48 86.32,188.76 87.18,187.54C88.03,186.32 88.89,184.89 89.75,184.22C90.61,183.55 91.47,183.26 92.33,183.53C93.18,183.80 94.04,184.81 94.90,185.87C95.76,186.92 96.62,188.64 97.48,189.86C98.33,191.08 99.19,192.51 100.05,193.18C100.91,193.85 101.77,194.14 102.63,193.87C103.48,193.60 104.34,192.59 105.20,191.53C106.06,190.48 106.92,188.76 107.78,187.54C108.63,186.32 109.49,184.89 110.35,184.22C111.21,183.55 112.07,183.26 112.93,183.53C113.78,183.80 114.64,184.81 115.50,185.87C116.36,186.92 117.22,188.64 118.08,189.86C118.93,191.08 119.79,192.51 120.65,193.18C121.51,193.85 122.37,194.14 123.23,193.87C124.08,193.60 124.94,192.59 125.80,191.53C126.66,190.48 127.52,188.76 128.38,187.54C129.23,186.32 130.09,184.89 130.95,184.22C131.81,183.55 132.67,183.26 133.53,183.53C134.38,183.80 135.24,184.81 136.10,185.87C136.96,186.92 137.82,188.64 138.68,189.86C139.53,191.08 140.39,192.51 141.25,193.18C142.11,193.85 142.97,194.14 143.82,193.87C144.68,193.60 145.54,192.59 146.40,191.53C147.26,190.48 148.12,188.76 148.97,187.54C149.83,186.32 150.69,184.89 151.55,184.22C152.41,183.55 153.27,183.26 154.12,183.53C154.98,183.80 155.84,184.81 156.70,185.87C157.56,186.92 158.42,188.64 159.28,189.86C160.13,191.08 160.99,192.51 161.85,193.18C162.71,193.85 163.57,194.14 164.43,193.87C165.28,193.60 166.14,192.59 167.00,191.53C167.86,190.48 168.72,188.76 169.57,187.54C170.43,186.32 171.29,184.89 172.15,184.22C173.01,183.55 173.87,183.26 174.72,183.53C175.58,183.80 176.49,184.88 177.30,185.87C178.11,186.85 179.22,188.83 179.60,189.43" fill="none" stroke="#3c3c3c" stroke-width="1.4" stroke-opacity="0.82" stroke-linecap="round"/>
</g>
<text x="1088.79" y="196.21" font-size="24.7" textLength="14.42" lengthAdjust="spacingAndGlyphs" fill="#000">+</text>
<g filter="url(#lblur)">
<path d="M278.00,149.20C278.15,149.06 278.76,148.66 278.91,148.38C279.06,148.11 279.06,147.84 278.91,147.57C278.76,147.29 278.30,147.02 278.00,146.75C277.70,146.48 277.24,146.21 277.09,145.93C276.94,145.66 276.94,145.39 277.09,145.12C277.24,144.84 277.70,144.57 278.00,144.30C278.30,144.03 278.76,143.76 278.91,143.48C279.06,143.21 279.06,142.94 278.91,142.67C278.76,142.39 278.30,142.12 278.00,141.85C277.70,141.58 277.24,141.31 277.09,141.03C276.94,140.76 276.94,140.49 277.09,140.22C277.24,139.94 277.85,139.54 278.00,139.40" fill="none" stroke="#888" stroke-width="1.35" stroke-linecap="round"/>
<path d="M294.45,152.64C294.53,152.52 294.90,152.23 294.90,151.94C294.91,151.65 294.63,151.24 294.46,150.87C294.28,150.50 293.94,150.07 293.87,149.74C293.80,149.42 293.83,149.14 294.04,148.93C294.25,148.72 294.73,148.63 295.11,148.49C295.49,148.35 296.05,148.29 296.33,148.11C296.60,147.93 296.78,147.71 296.78,147.41C296.78,147.12 296.51,146.71 296.33,146.34C296.16,145.98 295.81,145.54 295.74,145.22C295.67,144.89 295.71,144.61 295.91,144.40C296.12,144.19 296.60,144.10 296.99,143.96C297.37,143.83 298.00,143.65 298.20,143.58" fill="none" stroke="#888" stroke-width="1.35" stroke-linecap="round"/>
<path d="M307.71,161.93C307.73,161.75 307.80,161.24 307.78,160.85C307.77,160.45 307.60,159.89 307.64,159.55C307.67,159.20 307.76,158.90 308.00,158.75C308.24,158.61 308.69,158.67 309.09,158.68C309.48,158.70 310.04,158.86 310.39,158.83C310.74,158.79 311.04,158.71 311.18,158.47C311.32,158.23 311.26,157.78 311.25,157.38C311.24,156.98 311.07,156.43 311.10,156.08C311.14,155.73 311.22,155.43 311.47,155.29C311.71,155.14 312.15,155.21 312.55,155.22C312.95,155.23 313.50,155.40 313.85,155.36C314.20,155.33 314.51,155.06 314.64,155.00" fill="none" stroke="#888" stroke-width="1.35" stroke-linecap="round"/>
<path d="M315.88,174.51C316.06,174.60 316.67,175.00 316.98,175.04C317.29,175.07 317.54,174.97 317.74,174.73C317.93,174.48 318.01,173.96 318.14,173.57C318.28,173.19 318.36,172.66 318.55,172.42C318.74,172.18 318.99,172.07 319.30,172.11C319.61,172.14 320.04,172.46 320.41,172.63C320.77,172.81 321.20,173.13 321.51,173.16C321.82,173.20 322.07,173.09 322.26,172.85C322.46,172.61 322.53,172.08 322.67,171.70C322.81,171.31 322.88,170.79 323.08,170.54C323.27,170.30 323.52,170.20 323.83,170.23C324.14,170.27 324.75,170.67 324.93,170.76" fill="none" stroke="#888" stroke-width="1.35" stroke-linecap="round"/>
<path d="M319.00,191.02C319.14,191.05 319.54,191.29 319.82,191.18C320.09,191.07 320.36,190.65 320.63,190.35C320.91,190.05 321.18,189.57 321.45,189.38C321.72,189.19 321.99,189.11 322.27,189.22C322.54,189.33 322.81,189.75 323.08,190.05C323.36,190.35 323.63,190.83 323.90,191.02C324.17,191.21 324.44,191.29 324.72,191.18C324.99,191.07 325.26,190.65 325.53,190.35C325.81,190.05 326.08,189.57 326.35,189.38C326.62,189.19 326.89,189.11 327.17,189.22C327.44,189.33 327.71,189.75 327.98,190.05C328.26,190.35 328.66,190.86 328.80,191.02" fill="none" stroke="#888" stroke-width="1.35" stroke-linecap="round"/>
<path d="M315.49,206.83C315.66,206.78 316.15,206.65 316.52,206.48C316.88,206.32 317.33,205.95 317.66,205.85C318.00,205.75 318.31,205.72 318.53,205.88C318.76,206.05 318.87,206.49 319.01,206.86C319.15,207.23 319.21,207.81 319.38,208.12C319.54,208.42 319.74,208.67 320.01,208.71C320.29,208.75 320.68,208.52 321.04,208.36C321.41,208.20 321.85,207.83 322.19,207.73C322.53,207.63 322.84,207.59 323.06,207.76C323.29,207.93 323.40,208.36 323.54,208.73C323.68,209.11 323.74,209.68 323.90,209.99C324.07,210.30 324.44,210.49 324.54,210.59" fill="none" stroke="#888" stroke-width="1.35" stroke-linecap="round"/>
<path d="M306.99,219.19C306.98,219.39 306.84,220.11 306.93,220.41C307.01,220.71 307.20,220.90 307.50,220.99C307.80,221.07 308.32,220.95 308.72,220.92C309.13,220.90 309.64,220.77 309.94,220.86C310.24,220.94 310.44,221.14 310.52,221.44C310.61,221.74 310.48,222.25 310.46,222.66C310.43,223.06 310.31,223.58 310.39,223.88C310.48,224.18 310.67,224.37 310.97,224.45C311.27,224.54 311.78,224.41 312.19,224.39C312.60,224.37 313.11,224.24 313.41,224.32C313.71,224.41 313.90,224.60 313.99,224.90C314.07,225.20 313.93,225.92 313.92,226.12" fill="none" stroke="#888" stroke-width="1.35" stroke-linecap="round"/>
<path d="M292.93,228.39C292.96,228.53 292.89,229.00 293.10,229.21C293.31,229.42 293.79,229.51 294.17,229.65C294.55,229.78 295.11,229.85 295.39,230.03C295.67,230.21 295.84,230.43 295.84,230.72C295.84,231.02 295.57,231.43 295.39,231.79C295.22,232.16 294.88,232.60 294.81,232.92C294.74,233.24 294.77,233.53 294.98,233.73C295.18,233.94 295.67,234.04 296.05,234.17C296.43,234.31 296.98,234.38 297.26,234.55C297.54,234.73 297.72,234.96 297.72,235.25C297.72,235.54 297.44,235.95 297.27,236.32C297.10,236.69 296.78,237.26 296.68,237.45" fill="none" stroke="#888" stroke-width="1.35" stroke-linecap="round"/>
<path d="M276.98,231.20C277.10,231.34 277.41,231.74 277.70,232.02C277.99,232.29 278.50,232.56 278.72,232.83C278.94,233.11 279.09,233.38 279.02,233.65C278.95,233.92 278.59,234.19 278.30,234.47C278.01,234.74 277.50,235.01 277.28,235.28C277.06,235.56 276.91,235.83 276.98,236.10C277.05,236.37 277.41,236.64 277.70,236.92C277.99,237.19 278.50,237.46 278.72,237.73C278.94,238.01 279.09,238.28 279.02,238.55C278.95,238.82 278.59,239.09 278.30,239.37C278.01,239.64 277.50,239.91 277.28,240.18C277.06,240.46 277.03,240.86 276.98,241.00" fill="none" stroke="#888" stroke-width="1.35" stroke-linecap="round"/>
<path d="M262.31,228.08C262.12,228.15 261.40,228.29 261.16,228.49C260.91,228.68 260.81,228.93 260.84,229.24C260.88,229.55 261.20,229.98 261.37,230.34C261.55,230.71 261.86,231.14 261.90,231.45C261.94,231.75 261.83,232.01 261.59,232.20C261.34,232.39 260.82,232.47 260.43,232.61C260.05,232.74 259.53,232.82 259.28,233.01C259.04,233.21 258.93,233.46 258.97,233.77C259.01,234.08 259.32,234.50 259.50,234.87C259.67,235.24 259.99,235.66 260.02,235.97C260.06,236.28 259.96,236.53 259.71,236.73C259.47,236.92 258.75,237.07 258.56,237.13" fill="none" stroke="#888" stroke-width="1.35" stroke-linecap="round"/>
<path d="M248.43,218.61C248.31,218.69 247.85,218.81 247.74,219.08C247.63,219.35 247.73,219.83 247.74,220.24C247.76,220.64 247.92,221.18 247.86,221.51C247.80,221.83 247.66,222.08 247.39,222.19C247.12,222.31 246.63,222.21 246.23,222.19C245.83,222.17 245.29,222.02 244.96,222.07C244.64,222.13 244.39,222.27 244.28,222.54C244.16,222.81 244.26,223.30 244.28,223.70C244.30,224.11 244.45,224.64 244.39,224.97C244.33,225.30 244.20,225.54 243.92,225.66C243.65,225.77 243.17,225.67 242.77,225.65C242.36,225.63 241.71,225.56 241.50,225.54" fill="none" stroke="#888" stroke-width="1.35" stroke-linecap="round"/>
<path d="M239.73,204.95C239.65,205.11 239.39,205.55 239.25,205.92C239.11,206.29 239.05,206.87 238.89,207.18C238.72,207.49 238.53,207.73 238.25,207.77C237.97,207.81 237.58,207.59 237.22,207.42C236.86,207.26 236.41,206.89 236.07,206.79C235.74,206.69 235.43,206.65 235.20,206.82C234.98,206.99 234.86,207.42 234.72,207.80C234.58,208.17 234.53,208.74 234.36,209.05C234.19,209.36 234.00,209.61 233.72,209.65C233.44,209.69 233.06,209.46 232.69,209.30C232.33,209.13 231.88,208.76 231.55,208.66C231.21,208.56 230.82,208.69 230.68,208.70" fill="none" stroke="#888" stroke-width="1.35" stroke-linecap="round"/>
<path d="M237.00,190.20C236.86,190.05 236.46,189.44 236.18,189.29C235.91,189.14 235.64,189.14 235.37,189.29C235.09,189.44 234.82,189.90 234.55,190.20C234.28,190.50 234.01,190.96 233.73,191.11C233.46,191.26 233.19,191.26 232.92,191.11C232.64,190.96 232.37,190.50 232.10,190.20C231.83,189.90 231.56,189.44 231.28,189.29C231.01,189.14 230.74,189.14 230.47,189.29C230.19,189.44 229.92,189.90 229.65,190.20C229.38,190.50 229.11,190.96 228.83,191.11C228.56,191.26 228.29,191.26 228.02,191.11C227.74,190.96 227.34,190.35 227.20,190.20" fill="none" stroke="#888" stroke-width="1.35" stroke-linecap="round"/>
<path d="M240.44,173.75C240.32,173.67 240.03,173.30 239.74,173.30C239.45,173.29 239.04,173.57 238.67,173.74C238.30,173.92 237.87,174.26 237.54,174.33C237.22,174.40 236.94,174.37 236.73,174.16C236.52,173.95 236.43,173.47 236.29,173.09C236.15,172.71 236.09,172.15 235.91,171.87C235.73,171.60 235.51,171.42 235.21,171.42C234.92,171.42 234.51,171.69 234.14,171.87C233.78,172.04 233.34,172.39 233.02,172.46C232.69,172.53 232.41,172.49 232.20,172.29C231.99,172.08 231.90,171.60 231.76,171.21C231.63,170.83 231.45,170.20 231.38,170.00" fill="none" stroke="#888" stroke-width="1.35" stroke-linecap="round"/>
<path d="M249.73,160.49C249.55,160.47 249.04,160.40 248.65,160.42C248.25,160.43 247.69,160.60 247.35,160.56C247.00,160.53 246.70,160.44 246.55,160.20C246.41,159.96 246.47,159.51 246.48,159.11C246.50,158.72 246.66,158.16 246.63,157.81C246.59,157.46 246.51,157.16 246.27,157.02C246.03,156.88 245.58,156.94 245.18,156.95C244.78,156.96 244.23,157.13 243.88,157.10C243.53,157.06 243.23,156.98 243.09,156.73C242.94,156.49 243.01,156.05 243.02,155.65C243.03,155.25 243.20,154.70 243.16,154.35C243.13,154.00 242.86,153.69 242.80,153.56" fill="none" stroke="#888" stroke-width="1.35" stroke-linecap="round"/>
<path d="M262.31,152.32C262.40,152.14 262.80,151.53 262.84,151.22C262.87,150.91 262.77,150.66 262.53,150.46C262.28,150.27 261.76,150.19 261.37,150.06C260.99,149.92 260.46,149.84 260.22,149.65C259.98,149.46 259.87,149.21 259.91,148.90C259.94,148.59 260.26,148.16 260.43,147.79C260.61,147.43 260.93,147.00 260.96,146.69C261.00,146.38 260.89,146.13 260.65,145.94C260.41,145.74 259.88,145.67 259.50,145.53C259.11,145.39 258.59,145.32 258.34,145.12C258.10,144.93 258.00,144.68 258.03,144.37C258.07,144.06 258.47,143.45 258.56,143.27" fill="none" stroke="#888" stroke-width="1.35" stroke-linecap="round"/>
<circle cx="278" cy="190.2" r="42.3" fill="#848484"/>
<circle cx="278" cy="190.2" r="36.4" fill="none" stroke="#c6c6c6" stroke-width="7.4" stroke-dasharray="1.286 1.572"/>
<circle cx="278" cy="190.2" r="29.4" fill="none" stroke="#c6c6c6" stroke-width="6.6" stroke-dasharray="1.299 1.587"/>
<circle cx="278" cy="190.2" r="25.8" fill="#858585"/>
<circle cx="278" cy="190.2" r="24.7" fill="#f4f4f4"/>
</g>
<g filter="url(#lblur)">
<path d="M1161.50,149.40C1161.65,149.26 1162.26,148.86 1162.41,148.58C1162.56,148.31 1162.56,148.04 1162.41,147.77C1162.26,147.49 1161.80,147.22 1161.50,146.95C1161.20,146.68 1160.74,146.41 1160.59,146.13C1160.44,145.86 1160.44,145.59 1160.59,145.32C1160.74,145.04 1161.20,144.77 1161.50,144.50C1161.80,144.23 1162.26,143.96 1162.41,143.68C1162.56,143.41 1162.56,143.14 1162.41,142.87C1162.26,142.59 1161.80,142.32 1161.50,142.05C1161.20,141.78 1160.74,141.51 1160.59,141.23C1160.44,140.96 1160.44,140.69 1160.59,140.42C1160.74,140.14 1161.35,139.74 1161.50,139.60" fill="none" stroke="#888" stroke-width="1.35" stroke-linecap="round"/>
<path d="M1177.95,152.84C1178.03,152.72 1178.40,152.43 1178.40,152.14C1178.41,151.85 1178.13,151.44 1177.96,151.07C1177.78,150.70 1177.44,150.27 1177.37,149.94C1177.30,149.62 1177.33,149.34 1177.54,149.13C1177.75,148.92 1178.23,148.83 1178.61,148.69C1178.99,148.55 1179.55,148.49 1179.83,148.31C1180.10,148.13 1180.28,147.91 1180.28,147.61C1180.28,147.32 1180.01,146.91 1179.83,146.54C1179.66,146.18 1179.31,145.74 1179.24,145.42C1179.17,145.09 1179.21,144.81 1179.41,144.60C1179.62,144.39 1180.10,144.30 1180.49,144.16C1180.87,144.03 1181.50,143.85 1181.70,143.78" fill="none" stroke="#888" stroke-width="1.35" stroke-linecap="round"/>
<path d="M1191.21,162.13C1191.23,161.95 1191.30,161.44 1191.28,161.05C1191.27,160.65 1191.10,160.09 1191.14,159.75C1191.17,159.40 1191.26,159.10 1191.50,158.95C1191.74,158.81 1192.19,158.87 1192.59,158.88C1192.98,158.90 1193.54,159.06 1193.89,159.03C1194.24,158.99 1194.54,158.91 1194.68,158.67C1194.82,158.43 1194.76,157.98 1194.75,157.58C1194.74,157.18 1194.57,156.63 1194.60,156.28C1194.64,155.93 1194.72,155.63 1194.97,155.49C1195.21,155.34 1195.65,155.41 1196.05,155.42C1196.45,155.43 1197.00,155.60 1197.35,155.56C1197.70,155.53 1198.01,155.26 1198.14,155.20" fill="none" stroke="#888" stroke-width="1.35" stroke-linecap="round"/>
<path d="M1199.38,174.71C1199.56,174.80 1200.17,175.20 1200.48,175.24C1200.79,175.27 1201.04,175.17 1201.24,174.93C1201.43,174.68 1201.51,174.16 1201.64,173.77C1201.78,173.39 1201.86,172.86 1202.05,172.62C1202.24,172.38 1202.49,172.27 1202.80,172.31C1203.11,172.34 1203.54,172.66 1203.91,172.83C1204.27,173.01 1204.70,173.33 1205.01,173.36C1205.32,173.40 1205.57,173.29 1205.76,173.05C1205.96,172.81 1206.03,172.28 1206.17,171.90C1206.31,171.51 1206.38,170.99 1206.58,170.74C1206.77,170.50 1207.02,170.40 1207.33,170.43C1207.64,170.47 1208.25,170.87 1208.43,170.96" fill="none" stroke="#888" stroke-width="1.35" stroke-linecap="round"/>
<path d="M1202.50,191.22C1202.64,191.25 1203.04,191.49 1203.32,191.38C1203.59,191.27 1203.86,190.85 1204.13,190.55C1204.41,190.25 1204.68,189.77 1204.95,189.58C1205.22,189.39 1205.49,189.31 1205.77,189.42C1206.04,189.53 1206.31,189.95 1206.58,190.25C1206.86,190.55 1207.13,191.03 1207.40,191.22C1207.67,191.41 1207.94,191.49 1208.22,191.38C1208.49,191.27 1208.76,190.85 1209.03,190.55C1209.31,190.25 1209.58,189.77 1209.85,189.58C1210.12,189.39 1210.39,189.31 1210.67,189.42C1210.94,189.53 1211.21,189.95 1211.48,190.25C1211.76,190.55 1212.16,191.06 1212.30,191.22" fill="none" stroke="#888" stroke-width="1.35" stroke-linecap="round"/>
<path d="M1198.99,207.03C1199.16,206.98 1199.65,206.85 1200.02,206.68C1200.38,206.52 1200.83,206.15 1201.16,206.05C1201.50,205.95 1201.81,205.92 1202.03,206.08C1202.26,206.25 1202.37,206.69 1202.51,207.06C1202.65,207.43 1202.71,208.01 1202.88,208.32C1203.04,208.62 1203.24,208.87 1203.51,208.91C1203.79,208.95 1204.18,208.72 1204.54,208.56C1204.91,208.40 1205.35,208.03 1205.69,207.93C1206.03,207.83 1206.34,207.79 1206.56,207.96C1206.79,208.13 1206.90,208.56 1207.04,208.93C1207.18,209.31 1207.24,209.88 1207.40,210.19C1207.57,210.50 1207.94,210.69 1208.04,210.79" fill="none" stroke="#888" stroke-width="1.35" stroke-linecap="round"/>
<path d="M1190.49,219.39C1190.48,219.59 1190.34,220.31 1190.43,220.61C1190.51,220.91 1190.70,221.10 1191.00,221.19C1191.30,221.27 1191.82,221.15 1192.22,221.12C1192.63,221.10 1193.14,220.97 1193.44,221.06C1193.74,221.14 1193.94,221.34 1194.02,221.64C1194.11,221.94 1193.98,222.45 1193.96,222.86C1193.93,223.26 1193.81,223.78 1193.89,224.08C1193.98,224.38 1194.17,224.57 1194.47,224.65C1194.77,224.74 1195.28,224.61 1195.69,224.59C1196.10,224.57 1196.61,224.44 1196.91,224.52C1197.21,224.61 1197.40,224.80 1197.49,225.10C1197.57,225.40 1197.43,226.12 1197.42,226.32" fill="none" stroke="#888" stroke-width="1.35" stroke-linecap="round"/>
<path d="M1176.43,228.59C1176.46,228.73 1176.39,229.20 1176.60,229.41C1176.81,229.62 1177.29,229.71 1177.67,229.85C1178.05,229.98 1178.61,230.05 1178.89,230.23C1179.17,230.41 1179.34,230.63 1179.34,230.92C1179.34,231.22 1179.07,231.63 1178.89,231.99C1178.72,232.36 1178.38,232.80 1178.31,233.12C1178.24,233.44 1178.27,233.73 1178.48,233.93C1178.68,234.14 1179.17,234.24 1179.55,234.37C1179.93,234.51 1180.48,234.58 1180.76,234.75C1181.04,234.93 1181.22,235.16 1181.22,235.45C1181.22,235.74 1180.94,236.15 1180.77,236.52C1180.60,236.89 1180.28,237.46 1180.18,237.65" fill="none" stroke="#888" stroke-width="1.35" stroke-linecap="round"/>
<path d="M1160.48,231.40C1160.60,231.54 1160.91,231.94 1161.20,232.22C1161.49,232.49 1162.00,232.76 1162.22,233.03C1162.44,233.31 1162.59,233.58 1162.52,233.85C1162.45,234.12 1162.09,234.39 1161.80,234.67C1161.51,234.94 1161.00,235.21 1160.78,235.48C1160.56,235.76 1160.41,236.03 1160.48,236.30C1160.55,236.57 1160.91,236.84 1161.20,237.12C1161.49,237.39 1162.00,237.66 1162.22,237.93C1162.44,238.21 1162.59,238.48 1162.52,238.75C1162.45,239.02 1162.09,239.29 1161.80,239.57C1161.51,239.84 1161.00,240.11 1160.78,240.38C1160.56,240.66 1160.53,241.06 1160.48,241.20" fill="none" stroke="#888" stroke-width="1.35" stroke-linecap="round"/>
<path d="M1145.81,228.28C1145.62,228.35 1144.90,228.49 1144.66,228.69C1144.41,228.88 1144.31,229.13 1144.34,229.44C1144.38,229.75 1144.70,230.18 1144.87,230.54C1145.05,230.91 1145.36,231.34 1145.40,231.65C1145.44,231.95 1145.33,232.21 1145.09,232.40C1144.84,232.59 1144.32,232.67 1143.93,232.81C1143.55,232.94 1143.03,233.02 1142.78,233.21C1142.54,233.41 1142.43,233.66 1142.47,233.97C1142.51,234.28 1142.82,234.70 1143.00,235.07C1143.17,235.44 1143.49,235.86 1143.52,236.17C1143.56,236.48 1143.46,236.73 1143.21,236.93C1142.97,237.12 1142.25,237.27 1142.06,237.33" fill="none" stroke="#888" stroke-width="1.35" stroke-linecap="round"/>
<path d="M1131.93,218.81C1131.81,218.89 1131.35,219.01 1131.24,219.28C1131.13,219.55 1131.23,220.03 1131.24,220.44C1131.26,220.84 1131.42,221.38 1131.36,221.71C1131.30,222.03 1131.16,222.28 1130.89,222.39C1130.62,222.51 1130.13,222.41 1129.73,222.39C1129.33,222.37 1128.79,222.22 1128.46,222.27C1128.14,222.33 1127.89,222.47 1127.78,222.74C1127.66,223.01 1127.76,223.50 1127.78,223.90C1127.80,224.31 1127.95,224.84 1127.89,225.17C1127.83,225.50 1127.70,225.74 1127.42,225.86C1127.15,225.97 1126.67,225.87 1126.27,225.85C1125.86,225.83 1125.21,225.76 1125.00,225.74" fill="none" stroke="#888" stroke-width="1.35" stroke-linecap="round"/>
<path d="M1123.23,205.15C1123.15,205.31 1122.89,205.75 1122.75,206.12C1122.61,206.49 1122.55,207.07 1122.39,207.38C1122.22,207.69 1122.03,207.93 1121.75,207.97C1121.47,208.01 1121.08,207.79 1120.72,207.62C1120.36,207.46 1119.91,207.09 1119.57,206.99C1119.24,206.89 1118.93,206.85 1118.70,207.02C1118.48,207.19 1118.36,207.62 1118.22,208.00C1118.08,208.37 1118.03,208.94 1117.86,209.25C1117.69,209.56 1117.50,209.81 1117.22,209.85C1116.94,209.89 1116.56,209.66 1116.19,209.50C1115.83,209.33 1115.38,208.96 1115.05,208.86C1114.71,208.76 1114.32,208.89 1114.18,208.90" fill="none" stroke="#888" stroke-width="1.35" stroke-linecap="round"/>
<path d="M1120.50,190.40C1120.36,190.25 1119.96,189.64 1119.68,189.49C1119.41,189.34 1119.14,189.34 1118.87,189.49C1118.59,189.64 1118.32,190.10 1118.05,190.40C1117.78,190.70 1117.51,191.16 1117.23,191.31C1116.96,191.46 1116.69,191.46 1116.42,191.31C1116.14,191.16 1115.87,190.70 1115.60,190.40C1115.33,190.10 1115.06,189.64 1114.78,189.49C1114.51,189.34 1114.24,189.34 1113.97,189.49C1113.69,189.64 1113.42,190.10 1113.15,190.40C1112.88,190.70 1112.61,191.16 1112.33,191.31C1112.06,191.46 1111.79,191.46 1111.52,191.31C1111.24,191.16 1110.84,190.55 1110.70,190.40" fill="none" stroke="#888" stroke-width="1.35" stroke-linecap="round"/>
<path d="M1123.94,173.95C1123.82,173.87 1123.53,173.50 1123.24,173.50C1122.95,173.49 1122.54,173.77 1122.17,173.94C1121.80,174.12 1121.37,174.46 1121.04,174.53C1120.72,174.60 1120.44,174.57 1120.23,174.36C1120.02,174.15 1119.93,173.67 1119.79,173.29C1119.65,172.91 1119.59,172.35 1119.41,172.07C1119.23,171.80 1119.01,171.62 1118.71,171.62C1118.42,171.62 1118.01,171.89 1117.64,172.07C1117.28,172.24 1116.84,172.59 1116.52,172.66C1116.19,172.73 1115.91,172.69 1115.70,172.49C1115.49,172.28 1115.40,171.80 1115.26,171.41C1115.13,171.03 1114.95,170.40 1114.88,170.20" fill="none" stroke="#888" stroke-width="1.35" stroke-linecap="round"/>
<path d="M1133.23,160.69C1133.05,160.67 1132.54,160.60 1132.15,160.62C1131.75,160.63 1131.19,160.80 1130.85,160.76C1130.50,160.73 1130.20,160.64 1130.05,160.40C1129.91,160.16 1129.97,159.71 1129.98,159.31C1130.00,158.92 1130.16,158.36 1130.13,158.01C1130.09,157.66 1130.01,157.36 1129.77,157.22C1129.53,157.08 1129.08,157.14 1128.68,157.15C1128.28,157.16 1127.73,157.33 1127.38,157.30C1127.03,157.26 1126.73,157.18 1126.59,156.93C1126.44,156.69 1126.51,156.25 1126.52,155.85C1126.53,155.45 1126.70,154.90 1126.66,154.55C1126.63,154.20 1126.36,153.89 1126.30,153.76" fill="none" stroke="#888" stroke-width="1.35" stroke-linecap="round"/>
<path d="M1145.81,152.52C1145.90,152.34 1146.30,151.73 1146.34,151.42C1146.37,151.11 1146.27,150.86 1146.03,150.66C1145.78,150.47 1145.26,150.39 1144.87,150.26C1144.49,150.12 1143.96,150.04 1143.72,149.85C1143.48,149.66 1143.37,149.41 1143.41,149.10C1143.44,148.79 1143.76,148.36 1143.93,147.99C1144.11,147.63 1144.43,147.20 1144.46,146.89C1144.50,146.58 1144.39,146.33 1144.15,146.14C1143.91,145.94 1143.38,145.87 1143.00,145.73C1142.61,145.59 1142.09,145.52 1141.84,145.32C1141.60,145.13 1141.50,144.88 1141.53,144.57C1141.57,144.26 1141.97,143.65 1142.06,143.47" fill="none" stroke="#888" stroke-width="1.35" stroke-linecap="round"/>
<circle cx="1161.5" cy="190.4" r="42.3" fill="#848484"/>
<circle cx="1161.5" cy="190.4" r="36.4" fill="none" stroke="#c6c6c6" stroke-width="7.4" stroke-dasharray="1.286 1.572"/>
<circle cx="1161.5" cy="190.4" r="29.4" fill="none" stroke="#c6c6c6" stroke-width="6.6" stroke-dasharray="1.299 1.587"/>
<circle cx="1161.5" cy="190.4" r="25.8" fill="#858585"/>
<circle cx="1161.5" cy="190.4" r="24.7" fill="#f4f4f4"/>
</g>
<linearGradient id="ga1" gradientUnits="userSpaceOnUse" x1="334.8" y1="0" x2="429.1" y2="0"><stop offset="0" stop-color="#ffffff"/><stop offset="0.05" stop-color="#f7f7f7"/><stop offset="1" stop-color="#a6a8ab"/></linearGradient><path d="M334.8,169L374.2,169L374.2,159.0L429.1,190.95L374.2,222.9L374.2,211.9L334.8,211.9Z" fill="url(#ga1)"/>
<linearGradient id="ga2" gradientUnits="userSpaceOnUse" x1="1227.6" y1="0" x2="1322.8" y2="0"><stop offset="0" stop-color="#ffffff"/><stop offset="0.05" stop-color="#f7f7f7"/><stop offset="1" stop-color="#a6a8ab"/></linearGradient><path d="M1227.6,169L1268.3,169L1268.3,159.0L1322.8,190.95L1268.3,222.9L1268.3,211.9L1227.6,211.9Z" fill="url(#ga2)"/>
<linearGradient id="ga3" gradientUnits="userSpaceOnUse" x1="645.5" y1="0" x2="854.2" y2="0"><stop offset="0" stop-color="#ffffff"/><stop offset="0.05" stop-color="#f7f7f7"/><stop offset="1" stop-color="#a6a8ab"/></linearGradient><path d="M645.5,118L760.8,118L760.8,99.8L854.2,153.6L760.8,207.4L760.8,189.8L645.5,189.8Z" fill="url(#ga3)"/>
<text x="693.63" y="164.70" font-size="27.6" textLength="128.67" lengthAdjust="spacingAndGlyphs" fill="#000">&gt;100 days</text>
<g transform="translate(439.75,166.40) rotate(25)" fill="none" stroke="#1a1a1a" stroke-width="1.45" stroke-linecap="round" stroke-linejoin="round">
<path d="M0,-7.3L0,7.3"/>
<path d="M0,-3L8.6,-3M0,3L8.6,3"/>
<path d="M8.6,-12.3L8.6,11.5"/>
<path d="M8.6,-7.2L41.5,-7.2C45.5,-7.2 48,-5.5 48.7,-3.5L48.7,3.2C47.5,5.5 45,6.8 41.5,6.8L8.6,6.8"/>
<path d="M36.9,-7.2L36.9,6.8"/>
<path d="M15.9,-7.2L15.9,0.3"/>
<path d="M22.6,-7.2L22.6,0.3"/>
<path d="M29.5,-7.2L29.5,0.3"/>
<path d="M48.7,-3.3L55,-3.3C58,-3.3 59.2,-1.6 59.2,0C59.2,1.6 58,3.3 55,3.3L48.7,3.3"/>
<path d="M59.2,0L78.4,0" stroke-width="1.3"/>
</g>
<g transform="translate(1328.05,166.40) rotate(25)" fill="none" stroke="#1a1a1a" stroke-width="1.45" stroke-linecap="round" stroke-linejoin="round">
<path d="M0,-7.3L0,7.3"/>
<path d="M0,-3L8.6,-3M0,3L8.6,3"/>
<path d="M8.6,-12.3L8.6,11.5"/>
<path d="M8.6,-7.2L41.5,-7.2C45.5,-7.2 48,-5.5 48.7,-3.5L48.7,3.2C47.5,5.5 45,6.8 41.5,6.8L8.6,6.8"/>
<path d="M36.9,-7.2L36.9,6.8"/>
<path d="M15.9,-7.2L15.9,0.3"/>
<path d="M22.6,-7.2L22.6,0.3"/>
<path d="M29.5,-7.2L29.5,0.3"/>
<path d="M48.7,-3.3L55,-3.3C58,-3.3 59.2,-1.6 59.2,0C59.2,1.6 58,3.3 55,3.3L48.7,3.3"/>
<path d="M59.2,0L78.4,0" stroke-width="1.3"/>
</g>
<g transform="translate(515.00,150.00) scale(0.06890)" fill="none" stroke="#000" stroke-width="35" stroke-linecap="round" stroke-linejoin="round">
<path d="M212.00,130.00C215.33,143.33 231.50,180.00 232.00,210.00C232.50,240.00 225.33,275.00 215.00,310.00C204.67,345.00 187.50,378.33 170.00,420.00C152.50,461.67 123.33,516.67 110.00,560.00C96.67,603.33 87.50,645.00 90.00,680.00C92.50,715.00 110.00,747.50 125.00,770.00C140.00,792.50 159.17,802.50 180.00,815.00C200.83,827.50 238.33,840.00 250.00,845.00"/>
<path d="M995.00,610.00C979.17,598.33 935.83,560.00 900.00,540.00C864.17,520.00 821.67,500.83 780.00,490.00C738.33,479.17 696.67,473.33 650.00,475.00C603.33,476.67 545.00,485.83 500.00,500.00C455.00,514.17 413.33,533.33 380.00,560.00C346.67,586.67 320.33,621.67 300.00,660.00C279.67,698.33 263.83,750.00 258.00,790.00C252.17,830.00 258.00,868.33 265.00,900.00C272.00,931.67 282.50,958.33 300.00,980.00C317.50,1001.67 340.00,1018.33 370.00,1030.00C400.00,1041.67 441.67,1045.83 480.00,1050.00C518.33,1054.17 580.00,1054.17 600.00,1055.00L1355,1052C1400,1050 1425,1020 1418,980C1410,950 1390,930 1370,912L1210,772"/>
<path d="M1005.00,740.00C1004.17,725.00 997.50,678.33 1000.00,650.00C1002.50,621.67 1008.33,592.50 1020.00,570.00C1031.67,547.50 1051.67,525.00 1070.00,515.00C1088.33,505.00 1110.00,504.17 1130.00,510.00C1150.00,515.83 1175.00,528.33 1190.00,550.00C1205.00,571.67 1214.17,611.67 1220.00,640.00C1225.83,668.33 1226.67,697.50 1225.00,720.00C1223.33,742.50 1212.50,765.83 1210.00,775.00"/>
<path d="M915.00,545.00C918.33,537.50 923.33,511.67 935.00,500.00C946.67,488.33 967.50,478.33 985.00,475.00C1002.50,471.67 1023.33,474.17 1040.00,480.00C1056.67,485.83 1077.50,505.00 1085.00,510.00"/>
<circle cx="1143" cy="868" r="35" stroke-width="32"/>
<path d="M550,990L665,990"/>
</g>
<g transform="translate(1405.20,150.00) scale(0.06890)" fill="none" stroke="#000" stroke-width="35" stroke-linecap="round" stroke-linejoin="round">
<path d="M212.00,130.00C215.33,143.33 231.50,180.00 232.00,210.00C232.50,240.00 225.33,275.00 215.00,310.00C204.67,345.00 187.50,378.33 170.00,420.00C152.50,461.67 123.33,516.67 110.00,560.00C96.67,603.33 87.50,645.00 90.00,680.00C92.50,715.00 110.00,747.50 125.00,770.00C140.00,792.50 159.17,802.50 180.00,815.00C200.83,827.50 238.33,840.00 250.00,845.00"/>
<path d="M995.00,610.00C979.17,598.33 935.83,560.00 900.00,540.00C864.17,520.00 821.67,500.83 780.00,490.00C738.33,479.17 696.67,473.33 650.00,475.00C603.33,476.67 545.00,485.83 500.00,500.00C455.00,514.17 413.33,533.33 380.00,560.00C346.67,586.67 320.33,621.67 300.00,660.00C279.67,698.33 263.83,750.00 258.00,790.00C252.17,830.00 258.00,868.33 265.00,900.00C272.00,931.67 282.50,958.33 300.00,980.00C317.50,1001.67 340.00,1018.33 370.00,1030.00C400.00,1041.67 441.67,1045.83 480.00,1050.00C518.33,1054.17 580.00,1054.17 600.00,1055.00L1355,1052C1400,1050 1425,1020 1418,980C1410,950 1390,930 1370,912L1210,772"/>
<path d="M1005.00,740.00C1004.17,725.00 997.50,678.33 1000.00,650.00C1002.50,621.67 1008.33,592.50 1020.00,570.00C1031.67,547.50 1051.67,525.00 1070.00,515.00C1088.33,505.00 1110.00,504.17 1130.00,510.00C1150.00,515.83 1175.00,528.33 1190.00,550.00C1205.00,571.67 1214.17,611.67 1220.00,640.00C1225.83,668.33 1226.67,697.50 1225.00,720.00C1223.33,742.50 1212.50,765.83 1210.00,775.00"/>
<path d="M915.00,545.00C918.33,537.50 923.33,511.67 935.00,500.00C946.67,488.33 967.50,478.33 985.00,475.00C1002.50,471.67 1023.33,474.17 1040.00,480.00C1056.67,485.83 1077.50,505.00 1085.00,510.00"/>
<circle cx="1143" cy="868" r="35" stroke-width="32"/>
<path d="M550,990L665,990"/>
</g>
<text x="0.14" y="315.30" font-size="39" textLength="26.55" lengthAdjust="spacingAndGlyphs" font-weight="bold" fill="#000" stroke="#000" stroke-width="1.0">b</text>
<path d="M411.5,304.8V731.3" stroke="#000" stroke-width="1.3" fill="none"/>
<path d="M400.0,731.30H412.1" stroke="#000" stroke-width="1.3" fill="none"/>
<path d="M400.0,624.82H412.1" stroke="#000" stroke-width="1.3" fill="none"/>
<path d="M400.0,518.35H412.1" stroke="#000" stroke-width="1.3" fill="none"/>
<path d="M400.0,411.87H412.1" stroke="#000" stroke-width="1.3" fill="none"/>
<path d="M400.0,305.40H412.1" stroke="#000" stroke-width="1.3" fill="none"/>
<path d="M400.0,731.3H651.3" stroke="#000" stroke-width="1.3" fill="none"/>
<path d="M651.3,720V742.5" stroke="#000" stroke-width="1.3" fill="none"/>
<path d="M693,731.3H1095.5" stroke="#000" stroke-width="1.3" fill="none"/>
<path d="M428.5,730.6999999999999V742.8" stroke="#000" stroke-width="1.3" fill="none"/>
<path d="M513.6,730.6999999999999V742.8" stroke="#000" stroke-width="1.3" fill="none"/>
<path d="M598.3,730.6999999999999V742.8" stroke="#000" stroke-width="1.3" fill="none"/>
<path d="M693.0,731.3V745.3" stroke="#000" stroke-width="1.3" fill="none"/>
<path d="M733.25,731.3V745.3" stroke="#000" stroke-width="1.3" fill="none"/>
<path d="M773.25,731.3V745.3" stroke="#000" stroke-width="1.3" fill="none"/>
<path d="M813.75,731.3V745.3" stroke="#000" stroke-width="1.3" fill="none"/>
<path d="M854.0,731.3V745.3" stroke="#000" stroke-width="1.3" fill="none"/>
<path d="M934.6,731.3V745.3" stroke="#000" stroke-width="1.3" fill="none"/>
<path d="M1015.0,731.3V745.3" stroke="#000" stroke-width="1.3" fill="none"/>
<path d="M1095.5,731.3V745.3" stroke="#000" stroke-width="1.3" fill="none"/>
<text x="321.84" y="313.90" font-size="24" textLength="67.61" lengthAdjust="spacingAndGlyphs" fill="#000">2,000</text>
<text x="326.49" y="420.30" font-size="24" textLength="62.90" lengthAdjust="spacingAndGlyphs" fill="#000">1,500</text>
<text x="324.73" y="526.80" font-size="24" textLength="64.68" lengthAdjust="spacingAndGlyphs" fill="#000">1,000</text>
<text x="343.70" y="633.20" font-size="24" textLength="45.77" lengthAdjust="spacingAndGlyphs" fill="#000">500</text>
<text x="373.80" y="739.70" font-size="24" textLength="15.71" lengthAdjust="spacingAndGlyphs" fill="#000">0</text>
<g transform="translate(301.0,0) rotate(-90)">
<text x="-621.74" y="0.00" font-size="27.7" textLength="85.47" lengthAdjust="spacingAndGlyphs" fill="#000">PCSK9</text>
<text x="-522.59" y="0.00" font-size="27.7" textLength="84.73" lengthAdjust="spacingAndGlyphs" fill="#000">(ng ml</text>
<text x="-439.45" y="-11.70" font-size="17.5" textLength="15.10" lengthAdjust="spacingAndGlyphs" fill="#000" stroke="#000" stroke-width="0.3">−1</text>
<text x="-422.75" y="0.00" font-size="27.7" textLength="8.79" lengthAdjust="spacingAndGlyphs" fill="#000">)</text>
</g>
<text x="506.36" y="841.80" font-size="27.6" textLength="496.40" lengthAdjust="spacingAndGlyphs" fill="#000">Time relative to dCas-Tet dosing (days)</text>
<text x="430.13" y="316.70" font-size="23.2" textLength="106.90" lengthAdjust="spacingAndGlyphs" fill="#000">PCSK9-EE</text>
<text x="426.36" y="344.60" font-size="23.2" textLength="113.28" lengthAdjust="spacingAndGlyphs" fill="#000">(silencing)</text>
<text x="724.02" y="444.00" font-size="23.2" textLength="95.65" lengthAdjust="spacingAndGlyphs" fill="#000">dCas-Tet</text>
<text x="699.76" y="471.90" font-size="23.2" textLength="143.79" lengthAdjust="spacingAndGlyphs" fill="#000">(reactivation)</text>
<path d="M474.3,446.2L476.8,353.1" stroke="#000" stroke-width="2.4" stroke-dasharray="15.2 6.1" fill="none"/>
<path d="M771.6,491.4V719.3" stroke="#000" stroke-width="2.7" stroke-dasharray="15.2 6.06" fill="none"/>
<path d="M423.25,503.75V570.7M414.35,503.75H432.15M414.35,570.7H432.15" stroke="#65a9af" stroke-width="2.4" stroke-linecap="round" fill="none"/>
<path d="M435.0,459.5V562.7M426.1,459.5H443.9M426.1,562.7H443.9" stroke="#65a9af" stroke-width="2.4" stroke-linecap="round" fill="none"/>
<path d="M474.25,459.5V562.7M465.35,459.5H483.15M465.35,562.7H483.15" stroke="#65a9af" stroke-width="2.4" stroke-linecap="round" fill="none"/>
<path d="M813.5,674.8V695.0M804.6,674.8H822.4M804.6,695.0H822.4" stroke="#65a9af" stroke-width="2.4" stroke-linecap="round" fill="none"/>
<path d="M853.8,528.75V602.7M844.9,528.75H862.6999999999999M844.9,602.7H862.6999999999999" stroke="#65a9af" stroke-width="2.4" stroke-linecap="round" fill="none"/>
<path d="M934.5,558.0V590.7M925.6,558.0H943.4M925.6,590.7H943.4" stroke="#65a9af" stroke-width="2.4" stroke-linecap="round" fill="none"/>
<path d="M1015.0,587.5V629.45M1006.1,587.5H1023.9M1006.1,629.45H1023.9" stroke="#65a9af" stroke-width="2.4" stroke-linecap="round" fill="none"/>
<path d="M1095.5,430.5V528.7M1086.6,430.5H1104.4M1086.6,528.7H1104.4" stroke="#65a9af" stroke-width="2.4" stroke-linecap="round" fill="none"/>
<path d="M423.25,537.5L435.0,511.25L474.25,511.25L521.5,727.0L653.5,725" stroke="#65a9af" stroke-width="4.6" fill="none" stroke-linejoin="round"/>
<path d="M693.0,724.25L733.25,725.75L773.25,725.75L813.5,684.8L853.8,565.5L934.5,573.75L1015.0,608.75L1095.5,479.25" stroke="#65a9af" stroke-width="4.6" fill="none" stroke-linejoin="round"/>
<circle cx="423.25" cy="537.5" r="8.6" fill="#65a9af"/>
<circle cx="435.0" cy="511.25" r="8.6" fill="#65a9af"/>
<circle cx="474.25" cy="511.25" r="8.6" fill="#65a9af"/>
<circle cx="521.5" cy="727.0" r="8.6" fill="#65a9af"/>
<circle cx="693.0" cy="724.25" r="8.6" fill="#65a9af"/>
<circle cx="733.25" cy="725.75" r="8.6" fill="#65a9af"/>
<circle cx="773.25" cy="725.75" r="8.6" fill="#65a9af"/>
<circle cx="813.5" cy="684.8" r="8.6" fill="#65a9af"/>
<circle cx="853.8" cy="565.5" r="8.6" fill="#65a9af"/>
<circle cx="934.5" cy="573.75" r="8.6" fill="#65a9af"/>
<circle cx="1015.0" cy="608.75" r="8.6" fill="#65a9af"/>
<circle cx="1095.5" cy="479.25" r="8.6" fill="#65a9af"/>
<g transform="translate(442.25,769.00) rotate(-45)"><text x="-54.98" y="0.00" font-size="24.0" textLength="55.95" lengthAdjust="spacingAndGlyphs" fill="#000">−200</text></g>
<g transform="translate(527.25,769.00) rotate(-45)"><text x="-54.98" y="0.00" font-size="24.0" textLength="55.95" lengthAdjust="spacingAndGlyphs" fill="#000">−150</text></g>
<g transform="translate(611.75,769.00) rotate(-45)"><text x="-54.98" y="0.00" font-size="24.0" textLength="55.95" lengthAdjust="spacingAndGlyphs" fill="#000">−100</text></g>
<g transform="translate(705.30,767.80) rotate(-45)"><text x="-35.74" y="0.00" font-size="24.0" textLength="36.37" lengthAdjust="spacingAndGlyphs" fill="#000">−14</text></g>
<g transform="translate(746.75,769.00) rotate(-45)"><text x="-27.07" y="0.00" font-size="24.0" textLength="28.32" lengthAdjust="spacingAndGlyphs" fill="#000">−7</text></g>
<g transform="translate(786.75,769.00) rotate(-45)"><text x="-12.84" y="0.00" font-size="24.0" textLength="13.81" lengthAdjust="spacingAndGlyphs" fill="#000">0</text></g>
<g transform="translate(827.25,769.00) rotate(-45)"><text x="-12.57" y="0.00" font-size="24.0" textLength="13.81" lengthAdjust="spacingAndGlyphs" fill="#000">7</text></g>
<g transform="translate(866.30,767.80) rotate(-45)"><text x="-20.99" y="0.00" font-size="24.0" textLength="21.55" lengthAdjust="spacingAndGlyphs" fill="#000">14</text></g>
<g transform="translate(948.10,769.00) rotate(-45)"><text x="-26.55" y="0.00" font-size="24.0" textLength="27.63" lengthAdjust="spacingAndGlyphs" fill="#000">28</text></g>
<g transform="translate(1028.50,769.00) rotate(-45)"><text x="-26.38" y="0.00" font-size="24.0" textLength="27.63" lengthAdjust="spacingAndGlyphs" fill="#000">42</text></g>
<g transform="translate(1109.00,769.00) rotate(-45)"><text x="-26.54" y="0.00" font-size="24.0" textLength="27.63" lengthAdjust="spacingAndGlyphs" fill="#000">56</text></g>
<defs><filter id="hblur" x="-20%" y="-10%" width="140%" height="120%"><feGaussianBlur stdDeviation="0.8"/></filter></defs>
<text x="0.22" y="903.20" font-size="38" textLength="23.94" lengthAdjust="spacingAndGlyphs" font-weight="bold" fill="#000" stroke="#000" stroke-width="1.0">c</text>
<path d="M340.8,917.3H1384.2" stroke="#44546a" stroke-width="4.8" fill="none"/>
<path d="M328.8,917.3L346.5,910.2L341.3,917.3L346.5,924.4Z" fill="#44546a"/>
<path d="M1396.2,917.3L1378.8,910.2L1384,917.3L1378.8,924.4Z" fill="#44546a"/>
<text x="830.83" y="906.80" font-size="23.8" textLength="65.78" lengthAdjust="spacingAndGlyphs" fill="#000">5.2 kb</text>
<rect x="325" y="929.6" width="1073.5" height="23.1" fill="#fcfcfc"/>
<text x="802.33" y="947.60" font-size="23.8" textLength="71.42" lengthAdjust="spacingAndGlyphs" font-style="italic" fill="#000">PCSK9</text>
<path d="M879.3,940.4H1398.5" stroke="#000" stroke-width="1.1" fill="none"/>
<rect x="879.3" y="936.2" width="63.5" height="7.6" fill="#000"/>
<rect x="942.5" y="933.0" width="44.5" height="13.8" fill="#000"/>
<rect x="1025" y="936.2" width="39" height="7.6" fill="#000"/>
<path d="M999.40,938.4L1001.30,940.4L999.40,942.4M1076.90,938.4L1078.80,940.4L1076.90,942.4M1090.40,938.4L1092.30,940.4L1090.40,942.4M1106.90,938.4L1108.80,940.4L1106.90,942.4M1120.40,938.4L1122.30,940.4L1120.40,942.4M1137.40,938.4L1139.30,940.4L1137.40,942.4M1151.15,938.4L1153.05,940.4L1151.15,942.4M1167.90,938.4L1169.80,940.4L1167.90,942.4M1181.15,938.4L1183.05,940.4L1181.15,942.4M1197.90,938.4L1199.80,940.4L1197.90,942.4M1211.15,938.4L1213.05,940.4L1211.15,942.4M1228.15,938.4L1230.05,940.4L1228.15,942.4M1241.65,938.4L1243.55,940.4L1241.65,942.4M1258.65,938.4L1260.55,940.4L1258.65,942.4M1271.65,938.4L1273.55,940.4L1271.65,942.4M1288.65,938.4L1290.55,940.4L1288.65,942.4M1301.90,938.4L1303.80,940.4L1301.90,942.4M1319.15,938.4L1321.05,940.4L1319.15,942.4M1332.40,938.4L1334.30,940.4L1332.40,942.4M1349.40,938.4L1351.30,940.4L1349.40,942.4M1362.40,938.4L1364.30,940.4L1362.40,942.4M1379.40,938.4L1381.30,940.4L1379.40,942.4M1392.90,938.4L1394.80,940.4L1392.90,942.4" stroke="#000" stroke-width="0.95" fill="none"/>
<path d="M970.40,938.2L972.60,940.4L970.40,942.6M1053.40,938.2L1055.60,940.4L1053.40,942.6" stroke="#fff" stroke-width="1.1" fill="none"/>
<text x="804.02" y="973.60" font-size="23.8" textLength="41.33" lengthAdjust="spacingAndGlyphs" fill="#000">CGI</text>
<rect x="854.0" y="963.2" width="201.0" height="6.7" fill="#ffc000"/>
<g transform="translate(3.5,1011.5) scale(0.9545,0.9924)" filter="url(#hblur)"><path d="M11,0C13.3,0 14.8,1.8 14.8,4.5C14.8,6.8 13.9,8.6 12.9,9.4L12.9,11C15,11.6 18.2,12.4 19.4,13.6C20.8,15 21,18 21.2,22L22,33C22.2,35.5 21.6,37.5 20.6,38.4C19.8,38.4 19.3,37.4 19.2,36L18.3,25L17.2,21.5C17,25 17.3,29 17.6,33C18,38 17.6,44 17,49C16.6,53 16.6,57 16.4,61C17.6,62.6 19.4,64 19.6,65C19.6,66 17,66 14.4,66C13,66 12.6,65 12.6,63.5C12.7,58 12.6,53 12.2,49C11.9,45 11.4,40 11,36.5C10.6,40 10.1,45 9.8,49C9.4,53 9.3,58 9.4,63.5C9.4,65 9,66 7.6,66C5,66 2.4,66 2.4,65C2.6,64 4.4,62.6 5.6,61C5.4,57 5.4,53 5,49C4.4,44 4,38 4.4,33C4.7,29 5,25 4.8,21.5L3.7,25L2.8,36C2.7,37.4 2.2,38.4 1.4,38.4C0.4,37.5 -0.2,35.5 0,33L0.8,22C1,18 1.2,15 2.6,13.6C3.8,12.4 7,11.6 9.1,11L9.1,9.4C8.1,8.6 7.2,6.8 7.2,4.5C7.2,1.8 8.7,0 11,0Z" fill="#0a0a0a"/></g>
<text x="251.20" y="1024.00" font-size="23.8" textLength="48.78" lengthAdjust="spacingAndGlyphs" fill="#000">CpG</text>
<text x="45.75" y="1048.90" font-size="23.8" textLength="253.54" lengthAdjust="spacingAndGlyphs" fill="#000">Liver hepatocyte WGBS</text>
<text x="146.91" y="1078.80" font-size="23.8" textLength="152.35" lengthAdjust="spacingAndGlyphs" fill="#000">Neuron WGBS</text>
<text x="193.03" y="1211.80" font-size="23.8" textLength="106.90" lengthAdjust="spacingAndGlyphs" fill="#000">PCSK9-EE</text>
<text x="204.03" y="1359.30" font-size="23.8" textLength="95.14" lengthAdjust="spacingAndGlyphs" fill="#000">dCas-Tet</text>
<path d="M326.4,1026.4V1001.3H328.0V1026.4ZM355.6,1026.4V1001.3H357.0V1026.4ZM359.0,1026.4V1001.3H361.0V1026.4ZM404.2,1026.4V1001.3H405.8V1026.4ZM407.0,1026.4V1001.3H409.0V1026.4ZM426.0,1026.4V1001.3H428.0V1026.4ZM444.8,1026.4V1001.3H446.8V1026.4ZM503.9,1026.4V1001.3H505.5V1026.4ZM584.5,1026.4V1001.3H586.1V1026.4ZM614.2,1026.4V1001.3H618.3V1026.4ZM656.7,1026.4V1001.3H661.7V1026.4ZM693.6,1026.4V1001.3H694.8V1026.4ZM701.2,1026.4V1001.3H702.8V1026.4ZM705.7,1026.4V1001.3H707.7V1026.4ZM752.8,1026.4V1001.3H754.8V1026.4ZM783.4,1026.4V1001.3H785.0V1026.4ZM795.3,1026.4V1001.3H799.7V1026.4ZM814.2,1026.4V1001.3H817.0V1026.4ZM820.8,1026.4V1001.3H822.7V1026.4ZM828.7,1026.4V1001.3H832.0V1026.4ZM839.5,1026.4V1001.3H841.7V1026.4ZM842.5,1026.4V1001.3H844.37V1026.4ZM844.6,1026.4V1001.3H846.43V1026.4ZM846.6,1026.4V1001.3H848.50V1026.4ZM851.7,1026.4V1001.3H854.7V1026.4ZM858.0,1026.4V1001.3H861.0V1026.4ZM862.5,1026.4V1001.3H864.37V1026.4ZM864.6,1026.4V1001.3H866.43V1026.4ZM866.6,1026.4V1001.3H868.50V1026.4ZM872.8,1026.4V1001.3H877.2V1026.4ZM879.2,1026.4V1001.3H883.0V1026.4ZM893.0,1026.4V1001.3H895.13V1026.4ZM895.3,1026.4V1001.3H897.47V1026.4ZM897.7,1026.4V1001.3H899.80V1026.4ZM904.2,1026.4V1001.3H905.8V1026.4ZM906.7,1026.4V1001.3H909.2V1026.4ZM919.2,1026.4V1001.3H921.03V1026.4ZM921.2,1026.4V1001.3H923.07V1026.4ZM923.3,1026.4V1001.3H925.10V1026.4ZM927.5,1026.4V1001.3H929.7V1026.4ZM938.3,1026.4V1001.3H942.0V1026.4ZM948.3,1026.4V1001.3H950.38V1026.4ZM950.6,1026.4V1001.3H952.66V1026.4ZM952.9,1026.4V1001.3H954.94V1026.4ZM955.1,1026.4V1001.3H957.22V1026.4ZM957.4,1026.4V1001.3H959.50V1026.4ZM962.0,1026.4V1001.3H964.22V1026.4ZM964.4,1026.4V1001.3H966.65V1026.4ZM966.9,1026.4V1001.3H969.08V1026.4ZM969.3,1026.4V1001.3H971.50V1026.4ZM975.0,1026.4V1001.3H979.2V1026.4ZM982.0,1026.4V1001.3H984.57V1026.4ZM984.8,1026.4V1001.3H987.33V1026.4ZM987.5,1026.4V1001.3H990.10V1026.4ZM991.3,1026.4V1001.3H993.0V1026.4ZM1000.3,1026.4V1001.3H1002.33V1026.4ZM1002.5,1026.4V1001.3H1004.57V1026.4ZM1004.8,1026.4V1001.3H1006.80V1026.4ZM1009.7,1026.4V1001.3H1015.0V1026.4ZM1015.8,1026.4V1001.3H1018.0V1026.4ZM1018.7,1026.4V1001.3H1022.0V1026.4ZM1026.3,1026.4V1001.3H1030.0V1026.4ZM1036.7,1026.4V1001.3H1040.0V1026.4ZM1049.7,1026.4V1001.3H1051.7V1026.4ZM1057.5,1026.4V1001.3H1058.8V1026.4ZM1064.2,1026.4V1001.3H1065.8V1026.4ZM1068.7,1026.4V1001.3H1070.8V1026.4ZM1075.0,1026.4V1001.3H1076.7V1026.4ZM1081.3,1026.4V1001.3H1083.33V1026.4ZM1083.5,1026.4V1001.3H1085.57V1026.4ZM1085.8,1026.4V1001.3H1087.80V1026.4ZM1090.8,1026.4V1001.3H1092.0V1026.4ZM1102.5,1026.4V1001.3H1103.8V1026.4ZM1109.7,1026.4V1001.3H1111.7V1026.4ZM1112.5,1026.4V1001.3H1115.8V1026.4ZM1116.7,1026.4V1001.3H1118.3V1026.4ZM1126.3,1026.4V1001.3H1129.7V1026.4ZM1132.0,1026.4V1001.3H1136.3V1026.4ZM1140.0,1026.4V1001.3H1144.7V1026.4ZM1155.8,1026.4V1001.3H1158.7V1026.4ZM1193.7,1026.4V1001.3H1196.0V1026.4ZM1210.0,1026.4V1001.3H1212.0V1026.4ZM1235.3,1026.4V1001.3H1237.3V1026.4ZM1255.5,1026.4V1001.3H1257.0V1026.4ZM1210.4,1026.4V1001.3H1212.0V1026.4ZM1235.9,1026.4V1001.3H1237.5V1026.4ZM1255.6,1026.4V1001.3H1257.0V1026.4ZM1303.4,1026.4V1001.3H1305.2V1026.4ZM1342.3,1026.4V1001.3H1344.3V1026.4ZM1352.6,1026.4V1001.3H1354.0V1026.4ZM1381.3,1026.4V1001.3H1382.7V1026.4ZM1394.0,1026.4V1001.3H1395.4V1026.4Z" fill="#a9a9a9"/>
<path d="M823.7,1026.4V1001.3H825.0V1026.4ZM915.3,1026.4V1001.3H918.3V1026.4ZM935.8,1026.4V1001.3H937.5V1026.4ZM1031.3,1026.4V1001.3H1033.7V1026.4Z" fill="#cfcfcf"/>
<path d="M311.3,1026.6H1398.7" stroke="#c9c9c9" stroke-width="1.5" fill="none"/>
<path d="M325.6,1056.3V1036.3H327.3V1056.3ZM355.0,1056.3V1035.0H356.8V1056.3ZM358.8,1056.3V1035.3H360.8V1056.3ZM403.5,1056.3V1036.3H405.2V1056.3ZM406.3,1056.3V1038.0H407.8V1056.3ZM425.2,1056.3V1034.6H426.7V1056.3ZM443.8,1056.3V1038.3H445.7V1056.3ZM503.8,1056.3V1033.3H505.2V1056.3ZM585.6,1056.3V1041.3H587.0V1056.3ZM613.8,1056.3V1035.3H615.5V1056.3ZM615.5,1056.3V1039.3H617.0V1056.3ZM657.3,1056.3V1043.3H658.5V1056.3ZM658.5,1056.3V1038.3H660.0V1056.3ZM660.0,1056.3V1048.3H660.8V1056.3ZM693.8,1056.3V1054.1H695.0V1056.3ZM701.3,1056.3V1038.0H702.8V1056.3ZM706.3,1056.3V1041.3H708.0V1056.3ZM753.5,1056.3V1047.3H755.2V1056.3ZM783.0,1056.3V1050.3H784.7V1056.3ZM783.0,1056.3V1050.0H785.0V1056.3ZM795.2,1056.3V1051.8H796.5V1056.3ZM798.0,1056.3V1051.8H799.5V1056.3ZM821.5,1056.3V1055.5H825.0V1056.3ZM842.0,1056.3V1054.5H843.5V1056.3ZM851.5,1056.3V1055.6H853.0V1056.3ZM858.5,1056.3V1055.4H868.0V1056.3ZM872.5,1056.3V1053.3H874.0V1056.3ZM874.0,1056.3V1054.5H876.0V1056.3ZM880.0,1056.3V1055.5H882.5V1056.3ZM892.8,1056.3V1054.6H894.5V1056.3ZM894.5,1056.3V1055.6H896.5V1056.3ZM922.0,1056.3V1055.5H925.0V1056.3ZM941.0,1056.3V1055.6H942.5V1056.3ZM949.5,1056.3V1055.4H952.0V1056.3ZM954.0,1056.3V1054.9H957.0V1056.3ZM965.0,1056.3V1055.5H967.0V1056.3ZM978.0,1056.3V1055.6H979.5V1056.3ZM983.0,1056.3V1055.3H989.0V1056.3ZM1001.0,1056.3V1054.5H1002.5V1056.3ZM1005.0,1056.3V1054.3H1006.5V1056.3ZM1011.2,1056.3V1054.5H1012.8V1056.3ZM1021.0,1056.3V1055.6H1022.5V1056.3ZM1032.0,1056.3V1055.7H1036.5V1056.3ZM1058.3,1056.3V1053.8H1060.0V1056.3ZM1064.2,1056.3V1053.0H1065.4V1056.3ZM1070.0,1056.3V1055.6H1072.0V1056.3ZM1075.0,1056.3V1054.3H1076.7V1056.3ZM1111.6,1056.3V1053.0H1113.0V1056.3ZM1116.5,1056.3V1055.7H1118.5V1056.3ZM1126.5,1056.3V1054.7H1128.0V1056.3ZM1128.0,1056.3V1053.3H1129.7V1056.3ZM1135.0,1056.3V1053.8H1136.7V1056.3ZM1141.3,1056.3V1054.0H1142.7V1056.3ZM1143.0,1056.3V1053.7H1144.4V1056.3ZM1155.8,1056.3V1054.3H1156.8V1056.3ZM1156.8,1056.3V1052.3H1158.3V1056.3ZM1195.0,1056.3V1055.1H1196.3V1056.3ZM1196.3,1056.3V1053.8H1197.8V1056.3ZM1211.2,1056.3V1054.6H1212.7V1056.3ZM1237.0,1056.3V1055.0H1238.0V1056.3ZM1256.3,1056.3V1055.7H1257.3V1056.3ZM1304.2,1056.3V1049.1H1305.8V1056.3ZM1343.4,1056.3V1036.3H1345.3V1056.3ZM1353.5,1056.3V1036.3H1355.3V1056.3ZM1382.3,1056.3V1048.0H1383.8V1056.3ZM1394.8,1056.3V1040.0H1396.5V1056.3Z" fill="#c0161c"/>
<path d="M311.3,1056.3H1398.7" stroke="#c0161c" stroke-width="0.9" fill="none"/>
<path d="M325.6,1085.4V1065.4H327.3V1085.4ZM355.0,1085.4V1067.4H356.8V1085.4ZM357.6,1085.4V1072.4H358.8V1085.4ZM359.2,1085.4V1066.7H360.8V1085.4ZM403.5,1085.4V1065.1H405.2V1085.4ZM406.3,1085.4V1064.4H407.8V1085.4ZM425.2,1085.4V1065.1H426.7V1085.4ZM443.8,1085.4V1072.1H445.7V1085.4ZM503.8,1085.4V1065.1H505.2V1085.4ZM585.6,1085.4V1079.7H587.0V1085.4ZM613.8,1085.4V1075.9H615.5V1085.4ZM615.8,1085.4V1070.4H617.0V1085.4ZM657.3,1085.4V1068.4H658.2V1085.4ZM658.2,1085.4V1063.7H659.5V1085.4ZM659.5,1085.4V1071.4H660.7V1085.4ZM693.8,1085.4V1070.4H695.0V1085.4ZM701.3,1085.4V1070.4H702.8V1085.4ZM706.3,1085.4V1072.1H708.0V1085.4ZM783.0,1085.4V1067.1H784.8V1085.4ZM795.2,1085.4V1070.1H796.5V1085.4ZM798.0,1085.4V1068.4H799.5V1085.4ZM815.8,1085.4V1070.1H817.0V1085.4ZM821.0,1085.4V1072.6H822.5V1085.4ZM824.0,1085.4V1070.1H825.5V1085.4ZM829.3,1085.4V1070.4H831.0V1085.4ZM840.0,1085.4V1069.6H841.6V1085.4ZM841.9,1085.4V1067.5H843.4V1085.4ZM846.2,1085.4V1068.4H847.5V1085.4ZM847.5,1085.4V1070.9H848.7V1085.4ZM851.3,1085.4V1071.4H853.0V1085.4ZM853.0,1085.4V1072.4H854.7V1085.4ZM858.0,1085.4V1072.1H860.0V1085.4ZM860.0,1085.4V1075.4H861.0V1085.4ZM863.0,1085.4V1071.4H865.0V1085.4ZM865.0,1085.4V1073.0H866.4V1085.4ZM866.6,1085.4V1072.5H868.0V1085.4ZM872.5,1085.4V1075.6H873.7V1085.4ZM874.0,1085.4V1075.4H875.2V1085.4ZM875.5,1085.4V1071.4H877.5V1085.4ZM877.5,1085.4V1074.4H878.3V1085.4ZM879.2,1085.4V1074.4H881.0V1085.4ZM881.0,1085.4V1075.9H883.0V1085.4ZM892.5,1085.4V1074.4H894.5V1085.4ZM894.5,1085.4V1077.9H895.7V1085.4ZM896.0,1085.4V1077.7H897.2V1085.4ZM897.5,1085.4V1077.6H898.6V1085.4ZM898.9,1085.4V1078.8H900.0V1085.4ZM904.2,1085.4V1075.5H905.3V1085.4ZM905.6,1085.4V1076.4H906.7V1085.4ZM907.0,1085.4V1075.3H908.1V1085.4ZM908.4,1085.4V1074.8H909.4V1085.4ZM917.0,1085.4V1075.9H918.3V1085.4ZM919.2,1085.4V1078.9H921.5V1085.4ZM921.5,1085.4V1073.4H924.0V1085.4ZM924.0,1085.4V1076.4H925.3V1085.4ZM927.8,1085.4V1075.9H929.3V1085.4ZM935.3,1085.4V1078.1H937.0V1085.4ZM938.3,1085.4V1080.1H939.7V1085.4ZM941.3,1085.4V1079.4H943.0V1085.4ZM949.7,1085.4V1075.7H950.9V1085.4ZM951.2,1085.4V1076.3H952.4V1085.4ZM952.7,1085.4V1077.8H953.9V1085.4ZM955.8,1085.4V1078.4H957.5V1085.4ZM957.5,1085.4V1075.9H960.0V1085.4ZM962.0,1085.4V1077.4H963.7V1085.4ZM964.0,1085.4V1077.7H965.7V1085.4ZM966.0,1085.4V1079.4H968.5V1085.4ZM968.5,1085.4V1080.2H969.8V1085.4ZM970.1,1085.4V1080.3H971.4V1085.4ZM975.0,1085.4V1077.9H976.2V1085.4ZM976.5,1085.4V1077.9H977.7V1085.4ZM978.0,1085.4V1078.1H979.2V1085.4ZM982.5,1085.4V1076.2H983.7V1085.4ZM984.0,1085.4V1076.6H985.2V1085.4ZM985.5,1085.4V1079.4H987.5V1085.4ZM987.5,1085.4V1077.1H989.7V1085.4ZM990.8,1085.4V1084.6H993.0V1085.4ZM1001.2,1085.4V1081.7H1002.8V1085.4ZM1004.2,1085.4V1079.4H1006.2V1085.4ZM1011.2,1085.4V1079.4H1012.8V1085.4ZM1013.3,1085.4V1082.4H1015.0V1085.4ZM1019.2,1085.4V1077.1H1020.8V1085.4ZM1021.0,1085.4V1083.4H1022.0V1085.4ZM1026.3,1085.4V1081.8H1027.9V1085.4ZM1028.2,1085.4V1081.1H1029.7V1085.4ZM1031.6,1085.4V1082.4H1034.0V1085.4ZM1020.0,1085.4V1077.4H1021.3V1085.4ZM1026.3,1085.4V1081.5H1027.7V1085.4ZM1028.0,1085.4V1081.2H1029.4V1085.4ZM1032.0,1085.4V1082.4H1033.7V1085.4ZM1038.0,1085.4V1082.4H1039.1V1085.4ZM1039.4,1085.4V1082.5H1040.5V1085.4ZM1050.0,1085.4V1081.7H1051.7V1085.4ZM1058.3,1085.4V1084.7H1060.0V1085.4ZM1064.2,1085.4V1078.1H1065.8V1085.4ZM1070.0,1085.4V1084.7H1071.7V1085.4ZM1075.0,1085.4V1074.4H1076.7V1085.4ZM1082.0,1085.4V1082.4H1083.7V1085.4ZM1085.0,1085.4V1081.7H1087.0V1085.4ZM1088.0,1085.4V1081.7H1089.7V1085.4ZM1102.8,1085.4V1082.4H1104.5V1085.4ZM1111.3,1085.4V1074.4H1113.0V1085.4ZM1113.7,1085.4V1080.1H1115.0V1085.4ZM1116.3,1085.4V1079.4H1118.3V1085.4ZM1126.3,1085.4V1079.4H1128.0V1085.4ZM1128.0,1085.4V1075.9H1129.7V1085.4ZM1132.5,1085.4V1080.9H1134.2V1085.4ZM1135.0,1085.4V1079.7H1136.7V1085.4ZM1141.3,1085.4V1078.8H1142.5V1085.4ZM1142.8,1085.4V1078.7H1144.0V1085.4ZM1144.3,1085.4V1078.9H1145.5V1085.4ZM1155.8,1085.4V1077.1H1157.0V1085.4ZM1157.2,1085.4V1075.2H1158.4V1085.4ZM1194.2,1085.4V1074.8H1195.7V1085.4ZM1196.0,1085.4V1074.2H1197.5V1085.4ZM1210.8,1085.4V1068.1H1212.8V1085.4ZM1236.7,1085.4V1072.6H1237.8V1085.4ZM1256.2,1085.4V1072.6H1257.8V1085.4ZM1304.2,1085.4V1065.1H1305.8V1085.4ZM1343.4,1085.4V1065.1H1345.3V1085.4ZM1353.5,1085.4V1064.6H1355.3V1085.4ZM1382.3,1085.4V1075.1H1383.8V1085.4ZM1394.8,1085.4V1068.1H1396.5V1085.4Z" fill="#1a1a66"/>
<path d="M311.3,1085.4H1398.7" stroke="#1a1a66" stroke-width="0.9" fill="none"/>
<text x="313.64" y="1037.80" font-size="7.9" textLength="33.52" lengthAdjust="spacingAndGlyphs" fill="#444">[0–1.00]</text>
<text x="313.64" y="1067.30" font-size="7.9" textLength="33.52" lengthAdjust="spacingAndGlyphs" fill="#444">[0–1.00]</text>
<rect x="309.4" y="1131.7" width="3.0" height="138.3" fill="#a3d3d7"/>
<rect x="309.4" y="1280.6" width="3.0" height="138.4" fill="#1c5aa6"/>
<path d="M327.0,1150.1V1126.6H328.7V1150.1ZM355.9,1150.1V1127.4H358.0V1150.1ZM360.2,1150.1V1127.4H362.3V1150.1ZM404.2,1150.1V1129.6H405.8V1150.1ZM407.5,1150.1V1131.6H408.4V1150.1ZM408.4,1150.1V1127.4H409.8V1150.1ZM426.7,1150.1V1127.4H428.4V1150.1ZM445.4,1150.1V1133.8H447.0V1150.1ZM504.7,1150.1V1132.4H506.3V1150.1ZM586.4,1150.1V1133.8H588.0V1150.1ZM615.3,1150.1V1141.9H616.8V1150.1ZM617.0,1150.1V1143.5H618.5V1150.1ZM660.3,1150.1V1135.4H661.0V1150.1ZM661.0,1150.1V1141.1H662.0V1150.1ZM662.0,1150.1V1146.1H662.9V1150.1ZM694.4,1150.1V1135.4H695.8V1150.1ZM702.5,1150.1V1132.4H703.5V1150.1ZM703.5,1150.1V1138.4H704.7V1150.1ZM707.3,1150.1V1141.6H708.8V1150.1ZM784.9,1150.1V1129.6H786.0V1150.1ZM785.0,1150.1V1129.6H786.2V1150.1ZM796.2,1150.1V1143.1H797.5V1150.1ZM797.5,1150.1V1139.1H799.0V1150.1ZM799.0,1150.1V1135.4H800.0V1150.1ZM817.0,1150.1V1133.8H818.0V1150.1ZM822.2,1150.1V1132.4H824.2V1150.1ZM825.3,1150.1V1127.4H827.0V1150.1ZM830.0,1150.1V1132.4H832.0V1150.1ZM841.2,1150.1V1145.1H842.0V1150.1ZM842.0,1150.1V1137.1H843.3V1150.1ZM844.2,1150.1V1143.8H845.8V1150.1ZM847.0,1150.1V1136.7H848.2V1150.1ZM848.5,1150.1V1136.6H849.7V1150.1ZM853.0,1150.1V1137.5H854.1V1150.1ZM854.4,1150.1V1137.5H855.5V1150.1ZM859.7,1150.1V1146.3H861.7V1150.1ZM864.2,1150.1V1140.1H866.5V1150.1ZM866.5,1150.1V1139.0H868.0V1150.1ZM868.2,1150.1V1140.5H869.7V1150.1ZM874.2,1150.1V1136.1H876.0V1150.1ZM876.0,1150.1V1141.1H877.5V1150.1ZM877.5,1150.1V1137.1H879.2V1150.1ZM881.2,1150.1V1136.1H882.5V1150.1ZM882.5,1150.1V1138.8H884.2V1150.1ZM894.2,1150.1V1133.8H895.3V1150.1ZM895.6,1150.1V1137.2H896.7V1150.1ZM897.0,1150.1V1138.1H899.0V1150.1ZM899.0,1150.1V1137.9H900.1V1150.1ZM900.4,1150.1V1136.4H901.4V1150.1ZM906.2,1150.1V1138.4H908.0V1150.1ZM908.8,1150.1V1138.4H910.8V1150.1ZM918.0,1150.1V1143.1H919.2V1150.1ZM921.2,1150.1V1135.3H922.5V1150.1ZM922.8,1150.1V1136.1H924.1V1150.1ZM924.4,1150.1V1136.8H925.6V1150.1ZM925.9,1150.1V1138.3H927.2V1150.1ZM928.8,1150.1V1135.4H930.0V1150.1ZM937.0,1150.1V1139.5H938.1V1150.1ZM938.4,1150.1V1140.7H939.4V1150.1ZM940.3,1150.1V1139.6H942.0V1150.1ZM943.0,1150.1V1145.4H944.2V1150.1ZM951.2,1150.1V1139.6H953.5V1150.1ZM953.5,1150.1V1137.1H956.0V1150.1ZM956.0,1150.1V1139.1H958.0V1150.1ZM958.0,1150.1V1136.1H959.1V1150.1ZM959.4,1150.1V1139.6H960.5V1150.1ZM963.8,1150.1V1139.3H965.1V1150.1ZM965.4,1150.1V1139.1H966.7V1150.1ZM967.0,1150.1V1140.1H968.2V1150.1ZM968.5,1150.1V1138.7H969.7V1150.1ZM970.8,1150.1V1141.1H973.0V1150.1ZM977.0,1150.1V1143.4H978.8V1150.1ZM979.1,1150.1V1144.3H980.9V1150.1ZM983.8,1150.1V1142.0H984.9V1150.1ZM985.1,1150.1V1143.0H986.2V1150.1ZM986.5,1150.1V1144.1H988.5V1150.1ZM988.5,1150.1V1143.3H990.8V1150.1ZM993.0,1150.1V1139.3H994.0V1150.1ZM1002.0,1150.1V1146.8H1004.2V1150.1ZM1005.0,1150.1V1140.4H1007.0V1150.1ZM1012.2,1150.1V1141.3H1014.2V1150.1ZM1014.7,1150.1V1145.4H1016.3V1150.1ZM1018.3,1150.1V1148.6H1019.8V1150.1ZM1020.3,1150.1V1140.4H1021.7V1150.1ZM1022.0,1150.1V1146.1H1024.2V1150.1ZM1027.2,1150.1V1141.8H1029.2V1150.1ZM1029.5,1150.1V1148.1H1031.7V1150.1ZM1020.0,1150.1V1140.4H1022.0V1150.1ZM1027.0,1150.1V1142.1H1029.2V1150.1ZM1029.2,1150.1V1148.8H1030.8V1150.1ZM1034.2,1150.1V1149.1H1035.8V1150.1ZM1037.5,1150.1V1149.1H1040.0V1150.1ZM1040.3,1150.1V1146.3H1042.0V1150.1ZM1051.3,1150.1V1145.1H1052.8V1150.1ZM1059.2,1150.1V1146.8H1060.5V1150.1ZM1066.2,1150.1V1142.1H1067.8V1150.1ZM1071.3,1150.1V1145.4H1073.0V1150.1ZM1077.0,1150.1V1142.4H1078.7V1150.1ZM1084.2,1150.1V1148.1H1085.8V1150.1ZM1086.2,1150.1V1145.4H1087.8V1150.1ZM1089.2,1150.1V1146.3H1090.8V1150.1ZM1092.5,1150.1V1149.1H1094.2V1150.1ZM1104.7,1150.1V1146.3H1106.0V1150.1ZM1112.5,1150.1V1140.8H1115.0V1150.1ZM1117.5,1150.1V1148.1H1118.8V1150.1ZM1127.5,1150.1V1145.4H1128.7V1150.1ZM1129.5,1150.1V1145.4H1130.8V1150.1ZM1134.2,1150.1V1149.1H1137.5V1150.1ZM1142.5,1150.1V1149.1H1145.8V1150.1ZM1158.3,1150.1V1146.8H1159.7V1150.1ZM1195.8,1150.1V1148.8H1198.0V1150.1ZM1212.5,1150.1V1148.1H1213.7V1150.1ZM1238.0,1150.1V1135.4H1239.0V1150.1ZM1257.5,1150.1V1143.4H1259.5V1150.1ZM1305.8,1150.1V1140.4H1306.9V1150.1ZM1344.9,1150.1V1129.6H1346.1V1150.1ZM1383.2,1150.1V1129.6H1384.5V1150.1ZM1396.0,1150.1V1135.8H1398.4V1150.1Z" fill="#7ec5ca"/>
<text x="313.42" y="1128.80" font-size="8.1" textLength="31.86" lengthAdjust="spacingAndGlyphs" fill="#444">[0–100]</text>
<path d="M318.9,1179.9H1398.8" stroke="#cdf1f6" stroke-width="1.0" fill="none"/>
<path d="M327.0,1179.9V1157.9H328.7V1179.9ZM355.9,1179.9V1160.1H358.0V1179.9ZM360.2,1179.9V1156.4H362.3V1179.9ZM404.2,1179.9V1162.6H405.8V1179.9ZM407.5,1179.9V1161.2H408.4V1179.9ZM408.4,1179.9V1158.3H409.8V1179.9ZM426.7,1179.9V1160.8H428.4V1179.9ZM445.4,1179.9V1163.6H447.0V1179.9ZM504.7,1179.9V1165.1H506.3V1179.9ZM586.4,1179.9V1164.0H588.0V1179.9ZM615.3,1179.9V1173.4H616.8V1179.9ZM617.0,1179.9V1174.4H618.5V1179.9ZM660.3,1179.9V1166.9H661.0V1179.9ZM661.0,1179.9V1171.1H662.0V1179.9ZM662.0,1179.9V1175.4H662.9V1179.9ZM694.4,1179.9V1166.9H695.8V1179.9ZM702.5,1179.9V1164.0H703.5V1179.9ZM703.5,1179.9V1167.7H704.7V1179.9ZM707.3,1179.9V1170.0H708.8V1179.9ZM784.9,1179.9V1158.8H786.0V1179.9ZM785.0,1179.9V1160.2H786.2V1179.9ZM796.2,1179.9V1171.7H797.5V1179.9ZM797.5,1179.9V1170.7H799.0V1179.9ZM799.0,1179.9V1163.3H800.0V1179.9ZM817.0,1179.9V1164.8H818.0V1179.9ZM822.2,1179.9V1164.5H824.2V1179.9ZM825.3,1179.9V1160.3H827.0V1179.9ZM830.0,1179.9V1163.4H832.0V1179.9ZM841.2,1179.9V1174.3H842.0V1179.9ZM842.0,1179.9V1168.4H843.3V1179.9ZM844.2,1179.9V1173.4H845.8V1179.9ZM847.0,1179.9V1165.4H848.2V1179.9ZM848.5,1179.9V1166.5H849.7V1179.9ZM853.0,1179.9V1167.4H854.1V1179.9ZM854.4,1179.9V1168.6H855.5V1179.9ZM859.7,1179.9V1176.0H861.7V1179.9ZM864.2,1179.9V1171.5H866.5V1179.9ZM866.5,1179.9V1171.3H868.0V1179.9ZM868.2,1179.9V1169.4H869.7V1179.9ZM874.2,1179.9V1166.9H876.0V1179.9ZM876.0,1179.9V1170.3H877.5V1179.9ZM877.5,1179.9V1167.2H879.2V1179.9ZM881.2,1179.9V1166.8H882.5V1179.9ZM882.5,1179.9V1168.3H884.2V1179.9ZM894.2,1179.9V1166.5H895.3V1179.9ZM895.6,1179.9V1167.4H896.7V1179.9ZM897.0,1179.9V1168.8H899.0V1179.9ZM899.0,1179.9V1166.5H900.1V1179.9ZM900.4,1179.9V1164.3H901.4V1179.9ZM906.2,1179.9V1167.4H908.0V1179.9ZM908.8,1179.9V1169.3H910.8V1179.9ZM918.0,1179.9V1172.7H919.2V1179.9ZM921.2,1179.9V1166.7H922.5V1179.9ZM922.8,1179.9V1165.2H924.1V1179.9ZM924.4,1179.9V1166.9H925.6V1179.9ZM925.9,1179.9V1165.5H927.2V1179.9ZM928.8,1179.9V1163.2H930.0V1179.9ZM937.0,1179.9V1168.9H938.1V1179.9ZM938.4,1179.9V1169.3H939.4V1179.9ZM940.3,1179.9V1170.2H942.0V1179.9ZM943.0,1179.9V1174.4H944.2V1179.9ZM951.2,1179.9V1170.8H953.5V1179.9ZM953.5,1179.9V1167.3H956.0V1179.9ZM956.0,1179.9V1167.9H958.0V1179.9ZM958.0,1179.9V1169.1H959.1V1179.9ZM959.4,1179.9V1170.2H960.5V1179.9ZM963.8,1179.9V1169.8H965.1V1179.9ZM965.4,1179.9V1169.6H966.7V1179.9ZM967.0,1179.9V1170.3H968.2V1179.9ZM968.5,1179.9V1172.0H969.7V1179.9ZM970.8,1179.9V1170.4H973.0V1179.9ZM977.0,1179.9V1173.4H978.8V1179.9ZM979.1,1179.9V1172.9H980.9V1179.9ZM983.8,1179.9V1172.6H984.9V1179.9ZM985.1,1179.9V1171.2H986.2V1179.9ZM986.5,1179.9V1173.1H988.5V1179.9ZM988.5,1179.9V1173.6H990.8V1179.9ZM993.0,1179.9V1168.3H994.0V1179.9ZM1002.0,1179.9V1176.5H1004.2V1179.9ZM1005.0,1179.9V1169.9H1007.0V1179.9ZM1012.2,1179.9V1171.2H1014.2V1179.9ZM1014.7,1179.9V1174.6H1016.3V1179.9ZM1018.3,1179.9V1178.2H1019.8V1179.9ZM1020.3,1179.9V1170.3H1021.7V1179.9ZM1022.0,1179.9V1175.7H1024.2V1179.9ZM1027.2,1179.9V1172.9H1029.2V1179.9ZM1029.5,1179.9V1177.8H1031.7V1179.9ZM1020.0,1179.9V1169.7H1022.0V1179.9ZM1027.0,1179.9V1170.5H1029.2V1179.9ZM1029.2,1179.9V1178.4H1030.8V1179.9ZM1034.2,1179.9V1179.0H1035.8V1179.9ZM1037.5,1179.9V1178.9H1040.0V1179.9ZM1040.3,1179.9V1175.9H1042.0V1179.9ZM1051.3,1179.9V1175.8H1052.8V1179.9ZM1059.2,1179.9V1176.6H1060.5V1179.9ZM1066.2,1179.9V1172.9H1067.8V1179.9ZM1071.3,1179.9V1175.8H1073.0V1179.9ZM1077.0,1179.9V1173.4H1078.7V1179.9ZM1084.2,1179.9V1177.7H1085.8V1179.9ZM1086.2,1179.9V1175.8H1087.8V1179.9ZM1089.2,1179.9V1176.4H1090.8V1179.9ZM1092.5,1179.9V1178.9H1094.2V1179.9ZM1104.7,1179.9V1175.6H1106.0V1179.9ZM1112.5,1179.9V1172.0H1115.0V1179.9ZM1117.5,1179.9V1177.9H1118.8V1179.9ZM1127.5,1179.9V1175.1H1128.7V1179.9ZM1129.5,1179.9V1174.6H1130.8V1179.9ZM1134.2,1179.9V1178.8H1137.5V1179.9ZM1142.5,1179.9V1178.8H1145.8V1179.9ZM1158.3,1179.9V1176.9H1159.7V1179.9ZM1195.8,1179.9V1178.6H1198.0V1179.9ZM1212.5,1179.9V1178.0H1213.7V1179.9ZM1238.0,1179.9V1163.2H1239.0V1179.9ZM1257.5,1179.9V1172.1H1259.5V1179.9ZM1305.8,1179.9V1171.4H1306.9V1179.9ZM1344.9,1179.9V1161.8H1346.1V1179.9ZM1383.2,1179.9V1161.4H1384.5V1179.9ZM1396.0,1179.9V1166.9H1398.4V1179.9Z" fill="#7ec5ca"/>
<text x="313.42" y="1158.60" font-size="8.1" textLength="31.86" lengthAdjust="spacingAndGlyphs" fill="#444">[0–100]</text>
<path d="M318.9,1209.7H1398.8" stroke="#9fe3ea" stroke-width="1.2" fill="none"/>
<path d="M327.0,1209.7V1186.3H328.7V1209.7ZM355.9,1209.7V1186.3H358.0V1209.7ZM360.2,1209.7V1188.9H362.3V1209.7ZM404.2,1209.7V1192.9H405.8V1209.7ZM407.5,1209.7V1191.7H408.4V1209.7ZM408.4,1209.7V1188.1H409.8V1209.7ZM426.7,1209.7V1186.5H428.4V1209.7ZM445.4,1209.7V1190.7H447.0V1209.7ZM504.7,1209.7V1190.8H506.3V1209.7ZM586.4,1209.7V1193.3H588.0V1209.7ZM615.3,1209.7V1200.7H616.8V1209.7ZM617.0,1209.7V1201.1H618.5V1209.7ZM660.3,1209.7V1194.1H661.0V1209.7ZM661.0,1209.7V1202.1H662.0V1209.7ZM662.0,1209.7V1205.1H662.9V1209.7ZM694.4,1209.7V1193.5H695.8V1209.7ZM702.5,1209.7V1189.6H703.5V1209.7ZM703.5,1209.7V1196.7H704.7V1209.7ZM707.3,1209.7V1201.5H708.8V1209.7ZM784.9,1209.7V1189.9H786.0V1209.7ZM785.0,1209.7V1192.1H786.2V1209.7ZM796.2,1209.7V1202.4H797.5V1209.7ZM797.5,1209.7V1200.4H799.0V1209.7ZM799.0,1209.7V1196.7H800.0V1209.7ZM817.0,1209.7V1195.1H818.0V1209.7ZM822.2,1209.7V1194.2H824.2V1209.7ZM825.3,1209.7V1188.3H827.0V1209.7ZM830.0,1209.7V1194.9H832.0V1209.7ZM841.2,1209.7V1205.6H842.0V1209.7ZM842.0,1209.7V1198.3H843.3V1209.7ZM844.2,1209.7V1204.3H845.8V1209.7ZM847.0,1209.7V1197.4H848.2V1209.7ZM848.5,1209.7V1194.8H849.7V1209.7ZM853.0,1209.7V1199.8H854.1V1209.7ZM854.4,1209.7V1199.3H855.5V1209.7ZM859.7,1209.7V1205.4H861.7V1209.7ZM864.2,1209.7V1199.3H866.5V1209.7ZM866.5,1209.7V1200.1H868.0V1209.7ZM868.2,1209.7V1200.3H869.7V1209.7ZM874.2,1209.7V1196.7H876.0V1209.7ZM876.0,1209.7V1201.2H877.5V1209.7ZM877.5,1209.7V1197.3H879.2V1209.7ZM881.2,1209.7V1196.7H882.5V1209.7ZM882.5,1209.7V1197.0H884.2V1209.7ZM894.2,1209.7V1193.5H895.3V1209.7ZM895.6,1209.7V1192.0H896.7V1209.7ZM897.0,1209.7V1197.8H899.0V1209.7ZM899.0,1209.7V1198.5H900.1V1209.7ZM900.4,1209.7V1196.4H901.4V1209.7ZM906.2,1209.7V1199.7H908.0V1209.7ZM908.8,1209.7V1199.7H910.8V1209.7ZM918.0,1209.7V1203.1H919.2V1209.7ZM921.2,1209.7V1197.9H922.5V1209.7ZM922.8,1209.7V1196.6H924.1V1209.7ZM924.4,1209.7V1197.1H925.6V1209.7ZM925.9,1209.7V1199.0H927.2V1209.7ZM928.8,1209.7V1193.3H930.0V1209.7ZM937.0,1209.7V1202.2H938.1V1209.7ZM938.4,1209.7V1200.5H939.4V1209.7ZM940.3,1209.7V1201.0H942.0V1209.7ZM943.0,1209.7V1204.2H944.2V1209.7ZM951.2,1209.7V1199.1H953.5V1209.7ZM953.5,1209.7V1198.4H956.0V1209.7ZM956.0,1209.7V1198.5H958.0V1209.7ZM958.0,1209.7V1200.2H959.1V1209.7ZM959.4,1209.7V1199.3H960.5V1209.7ZM963.8,1209.7V1197.8H965.1V1209.7ZM965.4,1209.7V1197.1H966.7V1209.7ZM967.0,1209.7V1197.6H968.2V1209.7ZM968.5,1209.7V1197.2H969.7V1209.7ZM970.8,1209.7V1199.5H973.0V1209.7ZM977.0,1209.7V1204.0H978.8V1209.7ZM979.1,1209.7V1203.2H980.9V1209.7ZM983.8,1209.7V1201.8H984.9V1209.7ZM985.1,1209.7V1202.1H986.2V1209.7ZM986.5,1209.7V1204.0H988.5V1209.7ZM988.5,1209.7V1203.7H990.8V1209.7ZM993.0,1209.7V1197.8H994.0V1209.7ZM1002.0,1209.7V1206.4H1004.2V1209.7ZM1005.0,1209.7V1199.0H1007.0V1209.7ZM1012.2,1209.7V1201.4H1014.2V1209.7ZM1014.7,1209.7V1205.5H1016.3V1209.7ZM1018.3,1209.7V1208.0H1019.8V1209.7ZM1020.3,1209.7V1198.3H1021.7V1209.7ZM1022.0,1209.7V1205.2H1024.2V1209.7ZM1027.2,1209.7V1200.5H1029.2V1209.7ZM1029.5,1209.7V1207.5H1031.7V1209.7ZM1020.0,1209.7V1199.2H1022.0V1209.7ZM1027.0,1209.7V1202.5H1029.2V1209.7ZM1029.2,1209.7V1208.4H1030.8V1209.7ZM1034.2,1209.7V1208.8H1035.8V1209.7ZM1037.5,1209.7V1208.9H1040.0V1209.7ZM1040.3,1209.7V1206.5H1042.0V1209.7ZM1051.3,1209.7V1205.1H1052.8V1209.7ZM1059.2,1209.7V1206.7H1060.5V1209.7ZM1066.2,1209.7V1201.1H1067.8V1209.7ZM1071.3,1209.7V1204.2H1073.0V1209.7ZM1077.0,1209.7V1202.1H1078.7V1209.7ZM1084.2,1209.7V1207.4H1085.8V1209.7ZM1086.2,1209.7V1204.2H1087.8V1209.7ZM1089.2,1209.7V1205.3H1090.8V1209.7ZM1092.5,1209.7V1208.7H1094.2V1209.7ZM1104.7,1209.7V1206.3H1106.0V1209.7ZM1112.5,1209.7V1201.3H1115.0V1209.7ZM1117.5,1209.7V1207.9H1118.8V1209.7ZM1127.5,1209.7V1205.5H1128.7V1209.7ZM1129.5,1209.7V1204.8H1130.8V1209.7ZM1134.2,1209.7V1208.6H1137.5V1209.7ZM1142.5,1209.7V1208.6H1145.8V1209.7ZM1158.3,1209.7V1206.4H1159.7V1209.7ZM1195.8,1209.7V1208.3H1198.0V1209.7ZM1212.5,1209.7V1207.5H1213.7V1209.7ZM1238.0,1209.7V1196.7H1239.0V1209.7ZM1257.5,1209.7V1202.6H1259.5V1209.7ZM1305.8,1209.7V1198.6H1306.9V1209.7ZM1344.9,1209.7V1187.1H1346.1V1209.7ZM1383.2,1209.7V1187.4H1384.5V1209.7ZM1396.0,1209.7V1195.5H1398.4V1209.7Z" fill="#7ec5ca"/>
<text x="313.42" y="1188.40" font-size="8.1" textLength="31.86" lengthAdjust="spacingAndGlyphs" fill="#444">[0–100]</text>
<path d="M318.9,1239.3H1398.8" stroke="#c9f0f6" stroke-width="1.6" fill="none"/>
<path d="M327.0,1239.3V1218.5H328.7V1239.3ZM355.9,1239.3V1215.8H358.0V1239.3ZM360.2,1239.3V1218.0H362.3V1239.3ZM404.2,1239.3V1216.6H405.8V1239.3ZM407.5,1239.3V1217.7H408.4V1239.3ZM408.4,1239.3V1217.5H409.8V1239.3ZM426.7,1239.3V1217.4H428.4V1239.3ZM445.4,1239.3V1220.4H447.0V1239.3ZM504.7,1239.3V1220.2H506.3V1239.3ZM586.4,1239.3V1224.9H588.0V1239.3ZM615.3,1239.3V1233.6H616.8V1239.3ZM617.0,1239.3V1232.7H618.5V1239.3ZM660.3,1239.3V1226.3H661.0V1239.3ZM661.0,1239.3V1229.0H662.0V1239.3ZM662.0,1239.3V1234.9H662.9V1239.3ZM694.4,1239.3V1226.3H695.8V1239.3ZM702.5,1239.3V1219.5H703.5V1239.3ZM703.5,1239.3V1225.6H704.7V1239.3ZM707.3,1239.3V1230.3H708.8V1239.3ZM784.9,1239.3V1219.9H786.0V1239.3ZM785.0,1239.3V1218.4H786.2V1239.3ZM796.2,1239.3V1233.2H797.5V1239.3ZM797.5,1239.3V1230.2H799.0V1239.3ZM799.0,1239.3V1222.1H800.0V1239.3ZM817.0,1239.3V1222.1H818.0V1239.3ZM822.2,1239.3V1221.4H824.2V1239.3ZM825.3,1239.3V1215.8H827.0V1239.3ZM830.0,1239.3V1222.0H832.0V1239.3ZM841.2,1239.3V1233.6H842.0V1239.3ZM842.0,1239.3V1224.8H843.3V1239.3ZM844.2,1239.3V1233.7H845.8V1239.3ZM847.0,1239.3V1224.6H848.2V1239.3ZM848.5,1239.3V1227.5H849.7V1239.3ZM853.0,1239.3V1227.3H854.1V1239.3ZM854.4,1239.3V1226.4H855.5V1239.3ZM859.7,1239.3V1235.9H861.7V1239.3ZM864.2,1239.3V1229.0H866.5V1239.3ZM866.5,1239.3V1230.4H868.0V1239.3ZM868.2,1239.3V1227.8H869.7V1239.3ZM874.2,1239.3V1225.7H876.0V1239.3ZM876.0,1239.3V1231.5H877.5V1239.3ZM877.5,1239.3V1224.4H879.2V1239.3ZM881.2,1239.3V1226.0H882.5V1239.3ZM882.5,1239.3V1228.2H884.2V1239.3ZM894.2,1239.3V1226.3H895.3V1239.3ZM895.6,1239.3V1224.7H896.7V1239.3ZM897.0,1239.3V1225.6H899.0V1239.3ZM899.0,1239.3V1228.1H900.1V1239.3ZM900.4,1239.3V1227.4H901.4V1239.3ZM906.2,1239.3V1225.8H908.0V1239.3ZM908.8,1239.3V1227.6H910.8V1239.3ZM918.0,1239.3V1232.2H919.2V1239.3ZM921.2,1239.3V1225.2H922.5V1239.3ZM922.8,1239.3V1225.8H924.1V1239.3ZM924.4,1239.3V1227.3H925.6V1239.3ZM925.9,1239.3V1226.9H927.2V1239.3ZM928.8,1239.3V1226.3H930.0V1239.3ZM937.0,1239.3V1228.9H938.1V1239.3ZM938.4,1239.3V1229.6H939.4V1239.3ZM940.3,1239.3V1230.0H942.0V1239.3ZM943.0,1239.3V1235.4H944.2V1239.3ZM951.2,1239.3V1227.7H953.5V1239.3ZM953.5,1239.3V1227.8H956.0V1239.3ZM956.0,1239.3V1228.4H958.0V1239.3ZM958.0,1239.3V1226.6H959.1V1239.3ZM959.4,1239.3V1227.8H960.5V1239.3ZM963.8,1239.3V1226.7H965.1V1239.3ZM965.4,1239.3V1228.9H966.7V1239.3ZM967.0,1239.3V1228.8H968.2V1239.3ZM968.5,1239.3V1228.6H969.7V1239.3ZM970.8,1239.3V1230.2H973.0V1239.3ZM977.0,1239.3V1233.9H978.8V1239.3ZM979.1,1239.3V1232.1H980.9V1239.3ZM983.8,1239.3V1231.2H984.9V1239.3ZM985.1,1239.3V1230.1H986.2V1239.3ZM986.5,1239.3V1234.2H988.5V1239.3ZM988.5,1239.3V1232.4H990.8V1239.3ZM993.0,1239.3V1229.5H994.0V1239.3ZM1002.0,1239.3V1236.3H1004.2V1239.3ZM1005.0,1239.3V1228.6H1007.0V1239.3ZM1012.2,1239.3V1230.5H1014.2V1239.3ZM1014.7,1239.3V1234.5H1016.3V1239.3ZM1018.3,1239.3V1237.7H1019.8V1239.3ZM1020.3,1239.3V1228.2H1021.7V1239.3ZM1022.0,1239.3V1235.4H1024.2V1239.3ZM1027.2,1239.3V1230.7H1029.2V1239.3ZM1029.5,1239.3V1237.3H1031.7V1239.3ZM1020.0,1239.3V1229.6H1022.0V1239.3ZM1027.0,1239.3V1230.7H1029.2V1239.3ZM1029.2,1239.3V1238.0H1030.8V1239.3ZM1034.2,1239.3V1238.3H1035.8V1239.3ZM1037.5,1239.3V1238.3H1040.0V1239.3ZM1040.3,1239.3V1234.9H1042.0V1239.3ZM1051.3,1239.3V1233.9H1052.8V1239.3ZM1059.2,1239.3V1235.6H1060.5V1239.3ZM1066.2,1239.3V1230.0H1067.8V1239.3ZM1071.3,1239.3V1235.0H1073.0V1239.3ZM1077.0,1239.3V1231.4H1078.7V1239.3ZM1084.2,1239.3V1237.0H1085.8V1239.3ZM1086.2,1239.3V1234.0H1087.8V1239.3ZM1089.2,1239.3V1236.0H1090.8V1239.3ZM1092.5,1239.3V1238.4H1094.2V1239.3ZM1104.7,1239.3V1235.6H1106.0V1239.3ZM1112.5,1239.3V1231.4H1115.0V1239.3ZM1117.5,1239.3V1237.5H1118.8V1239.3ZM1127.5,1239.3V1235.3H1128.7V1239.3ZM1129.5,1239.3V1234.3H1130.8V1239.3ZM1134.2,1239.3V1238.2H1137.5V1239.3ZM1142.5,1239.3V1238.2H1145.8V1239.3ZM1158.3,1239.3V1236.4H1159.7V1239.3ZM1195.8,1239.3V1237.9H1198.0V1239.3ZM1212.5,1239.3V1237.2H1213.7V1239.3ZM1238.0,1239.3V1226.3H1239.0V1239.3ZM1257.5,1239.3V1231.7H1259.5V1239.3ZM1305.8,1239.3V1228.0H1306.9V1239.3ZM1344.9,1239.3V1220.9H1346.1V1239.3ZM1383.2,1239.3V1215.8H1384.5V1239.3ZM1396.0,1239.3V1225.5H1398.4V1239.3Z" fill="#7ec5ca"/>
<text x="313.42" y="1218.00" font-size="8.1" textLength="31.86" lengthAdjust="spacingAndGlyphs" fill="#444">[0–100]</text>
<path d="M318.9,1269.1H1398.8" stroke="#c6eff6" stroke-width="1.6" fill="none"/>
<path d="M327.0,1269.1V1245.7H328.7V1269.1ZM355.9,1269.1V1245.6H358.0V1269.1ZM360.2,1269.1V1245.6H362.3V1269.1ZM404.2,1269.1V1251.1H405.8V1269.1ZM407.5,1269.1V1251.1H408.4V1269.1ZM408.4,1269.1V1246.3H409.8V1269.1ZM426.7,1269.1V1247.7H428.4V1269.1ZM445.4,1269.1V1254.6H447.0V1269.1ZM504.7,1269.1V1252.6H506.3V1269.1ZM586.4,1269.1V1251.5H588.0V1269.1ZM615.3,1269.1V1262.1H616.8V1269.1ZM617.0,1269.1V1262.7H618.5V1269.1ZM660.3,1269.1V1254.1H661.0V1269.1ZM661.0,1269.1V1260.3H662.0V1269.1ZM662.0,1269.1V1265.8H662.9V1269.1ZM694.4,1269.1V1255.3H695.8V1269.1ZM702.5,1269.1V1250.6H703.5V1269.1ZM703.5,1269.1V1257.3H704.7V1269.1ZM707.3,1269.1V1261.9H708.8V1269.1ZM784.9,1269.1V1245.6H786.0V1269.1ZM785.0,1269.1V1246.5H786.2V1269.1ZM796.2,1269.1V1260.9H797.5V1269.1ZM797.5,1269.1V1259.7H799.0V1269.1ZM799.0,1269.1V1255.6H800.0V1269.1ZM817.0,1269.1V1255.5H818.0V1269.1ZM822.2,1269.1V1249.6H824.2V1269.1ZM825.3,1269.1V1248.3H827.0V1269.1ZM830.0,1269.1V1253.8H832.0V1269.1ZM841.2,1269.1V1264.2H842.0V1269.1ZM842.0,1269.1V1254.2H843.3V1269.1ZM844.2,1269.1V1262.1H845.8V1269.1ZM847.0,1269.1V1257.6H848.2V1269.1ZM848.5,1269.1V1255.5H849.7V1269.1ZM853.0,1269.1V1256.3H854.1V1269.1ZM854.4,1269.1V1259.0H855.5V1269.1ZM859.7,1269.1V1264.7H861.7V1269.1ZM864.2,1269.1V1258.8H866.5V1269.1ZM866.5,1269.1V1256.6H868.0V1269.1ZM868.2,1269.1V1257.5H869.7V1269.1ZM874.2,1269.1V1256.1H876.0V1269.1ZM876.0,1269.1V1261.5H877.5V1269.1ZM877.5,1269.1V1255.2H879.2V1269.1ZM881.2,1269.1V1255.5H882.5V1269.1ZM882.5,1269.1V1259.5H884.2V1269.1ZM894.2,1269.1V1250.8H895.3V1269.1ZM895.6,1269.1V1252.0H896.7V1269.1ZM897.0,1269.1V1256.5H899.0V1269.1ZM899.0,1269.1V1253.5H900.1V1269.1ZM900.4,1269.1V1253.7H901.4V1269.1ZM906.2,1269.1V1259.2H908.0V1269.1ZM908.8,1269.1V1255.9H910.8V1269.1ZM918.0,1269.1V1263.2H919.2V1269.1ZM921.2,1269.1V1252.6H922.5V1269.1ZM922.8,1269.1V1254.7H924.1V1269.1ZM924.4,1269.1V1252.4H925.6V1269.1ZM925.9,1269.1V1253.4H927.2V1269.1ZM928.8,1269.1V1254.6H930.0V1269.1ZM937.0,1269.1V1259.0H938.1V1269.1ZM938.4,1269.1V1260.4H939.4V1269.1ZM940.3,1269.1V1258.4H942.0V1269.1ZM943.0,1269.1V1263.7H944.2V1269.1ZM951.2,1269.1V1259.5H953.5V1269.1ZM953.5,1269.1V1257.8H956.0V1269.1ZM956.0,1269.1V1258.0H958.0V1269.1ZM958.0,1269.1V1258.6H959.1V1269.1ZM959.4,1269.1V1258.0H960.5V1269.1ZM963.8,1269.1V1258.9H965.1V1269.1ZM965.4,1269.1V1258.5H966.7V1269.1ZM967.0,1269.1V1259.3H968.2V1269.1ZM968.5,1269.1V1259.9H969.7V1269.1ZM970.8,1269.1V1261.6H973.0V1269.1ZM977.0,1269.1V1263.5H978.8V1269.1ZM979.1,1269.1V1263.8H980.9V1269.1ZM983.8,1269.1V1261.8H984.9V1269.1ZM985.1,1269.1V1262.6H986.2V1269.1ZM986.5,1269.1V1263.5H988.5V1269.1ZM988.5,1269.1V1261.7H990.8V1269.1ZM993.0,1269.1V1259.1H994.0V1269.1ZM1002.0,1269.1V1265.8H1004.2V1269.1ZM1005.0,1269.1V1260.5H1007.0V1269.1ZM1012.2,1269.1V1260.8H1014.2V1269.1ZM1014.7,1269.1V1265.2H1016.3V1269.1ZM1018.3,1269.1V1267.7H1019.8V1269.1ZM1020.3,1269.1V1261.1H1021.7V1269.1ZM1022.0,1269.1V1264.8H1024.2V1269.1ZM1027.2,1269.1V1260.6H1029.2V1269.1ZM1029.5,1269.1V1267.3H1031.7V1269.1ZM1020.0,1269.1V1259.5H1022.0V1269.1ZM1027.0,1269.1V1259.8H1029.2V1269.1ZM1029.2,1269.1V1268.0H1030.8V1269.1ZM1034.2,1269.1V1268.0H1035.8V1269.1ZM1037.5,1269.1V1268.1H1040.0V1269.1ZM1040.3,1269.1V1265.3H1042.0V1269.1ZM1051.3,1269.1V1263.5H1052.8V1269.1ZM1059.2,1269.1V1265.9H1060.5V1269.1ZM1066.2,1269.1V1261.1H1067.8V1269.1ZM1071.3,1269.1V1264.1H1073.0V1269.1ZM1077.0,1269.1V1260.1H1078.7V1269.1ZM1084.2,1269.1V1267.2H1085.8V1269.1ZM1086.2,1269.1V1263.8H1087.8V1269.1ZM1089.2,1269.1V1265.0H1090.8V1269.1ZM1092.5,1269.1V1268.1H1094.2V1269.1ZM1104.7,1269.1V1265.4H1106.0V1269.1ZM1112.5,1269.1V1260.3H1115.0V1269.1ZM1117.5,1269.1V1267.4H1118.8V1269.1ZM1127.5,1269.1V1265.0H1128.7V1269.1ZM1129.5,1269.1V1265.1H1130.8V1269.1ZM1134.2,1269.1V1268.0H1137.5V1269.1ZM1142.5,1269.1V1268.2H1145.8V1269.1ZM1158.3,1269.1V1266.2H1159.7V1269.1ZM1195.8,1269.1V1268.0H1198.0V1269.1ZM1212.5,1269.1V1266.9H1213.7V1269.1ZM1238.0,1269.1V1252.4H1239.0V1269.1ZM1257.5,1269.1V1262.0H1259.5V1269.1ZM1305.8,1269.1V1260.2H1306.9V1269.1ZM1344.9,1269.1V1250.5H1346.1V1269.1ZM1383.2,1269.1V1250.1H1384.5V1269.1ZM1396.0,1269.1V1255.0H1398.4V1269.1Z" fill="#7ec5ca"/>
<text x="313.42" y="1247.80" font-size="8.1" textLength="31.86" lengthAdjust="spacingAndGlyphs" fill="#444">[0–100]</text>
<path d="M327.0,1298.7V1276.2H328.7V1298.7ZM355.9,1298.7V1276.2H358.0V1298.7ZM360.2,1298.7V1276.2H362.3V1298.7ZM404.2,1298.7V1276.2H405.8V1298.7ZM407.5,1298.7V1279.7H408.4V1298.7ZM408.4,1298.7V1276.2H409.8V1298.7ZM426.7,1298.7V1281.7H428.4V1298.7ZM445.4,1298.7V1281.7H447.0V1298.7ZM504.7,1298.7V1281.7H506.3V1298.7ZM586.4,1298.7V1281.7H588.0V1298.7ZM615.3,1298.7V1292.7H617.0V1298.7ZM617.0,1298.7V1290.7H618.8V1298.7ZM660.3,1298.7V1283.7H661.0V1298.7ZM661.0,1298.7V1290.7H662.0V1298.7ZM662.0,1298.7V1294.7H662.9V1298.7ZM694.4,1298.7V1294.7H695.8V1298.7ZM702.5,1298.7V1286.7H703.5V1298.7ZM703.5,1298.7V1289.7H704.7V1298.7ZM707.3,1298.7V1290.7H708.0V1298.7ZM708.0,1298.7V1293.7H708.8V1298.7ZM785.0,1298.7V1284.5H786.2V1298.7ZM796.2,1298.7V1291.2H798.0V1298.7ZM798.0,1298.7V1290.2H799.0V1298.7ZM799.0,1298.7V1287.0H800.0V1298.7ZM817.0,1298.7V1296.2H818.0V1298.7ZM822.2,1298.7V1296.2H824.2V1298.7ZM825.3,1298.7V1296.2H827.0V1298.7ZM830.0,1298.7V1295.4H832.0V1298.7ZM873.5,1298.7V1297.9H876.0V1298.7ZM906.2,1298.7V1295.4H908.3V1298.7ZM909.2,1298.7V1294.2H910.8V1298.7ZM921.2,1298.7V1295.1H922.3V1298.7ZM922.6,1298.7V1295.2H923.7V1298.7ZM924.0,1298.7V1296.4H925.1V1298.7ZM925.4,1298.7V1296.4H926.4V1298.7ZM928.8,1298.7V1295.7H930.0V1298.7ZM937.5,1298.7V1297.0H939.2V1298.7ZM940.3,1298.7V1295.4H942.0V1298.7ZM943.0,1298.7V1297.2H944.0V1298.7ZM951.7,1298.7V1288.7H954.2V1298.7ZM954.7,1298.7V1292.0H955.8V1298.7ZM956.3,1298.7V1295.0H957.5V1298.7ZM957.8,1298.7V1295.4H959.0V1298.7ZM959.3,1298.7V1295.4H960.5V1298.7ZM963.8,1298.7V1294.8H965.0V1298.7ZM965.3,1298.7V1295.1H966.5V1298.7ZM966.8,1298.7V1295.4H968.0V1298.7ZM970.8,1298.7V1297.0H973.0V1298.7ZM977.0,1298.7V1295.3H978.8V1298.7ZM979.1,1298.7V1296.2H980.9V1298.7ZM983.8,1298.7V1292.1H985.1V1298.7ZM985.4,1298.7V1292.6H986.7V1298.7ZM987.5,1298.7V1295.5H988.9V1298.7ZM989.1,1298.7V1295.8H990.5V1298.7ZM993.0,1298.7V1292.0H994.0V1298.7ZM1002.0,1298.7V1296.7H1004.2V1298.7ZM1005.0,1298.7V1293.7H1007.0V1298.7ZM1012.2,1298.7V1295.4H1013.3V1298.7ZM1013.6,1298.7V1295.2H1014.7V1298.7ZM1020.0,1298.7V1294.7H1022.0V1298.7ZM1022.5,1298.7V1296.7H1023.5V1298.7ZM1027.0,1298.7V1295.4H1029.2V1298.7ZM1029.2,1298.7V1297.0H1030.8V1298.7ZM1040.3,1298.7V1296.2H1042.0V1298.7ZM1051.3,1298.7V1297.0H1053.3V1298.7ZM1059.2,1298.7V1297.0H1060.5V1298.7ZM1066.2,1298.7V1295.4H1067.8V1298.7ZM1071.3,1298.7V1295.7H1073.0V1298.7ZM1077.0,1298.7V1295.4H1078.7V1298.7ZM1084.2,1298.7V1294.8H1085.5V1298.7ZM1085.8,1298.7V1294.7H1087.2V1298.7ZM1088.3,1298.7V1297.0H1090.8V1298.7ZM1104.7,1298.7V1296.2H1106.0V1298.7ZM1112.5,1298.7V1290.7H1113.7V1298.7ZM1113.7,1298.7V1292.7H1115.0V1298.7ZM1117.5,1298.7V1296.2H1118.8V1298.7ZM1127.5,1298.7V1296.7H1128.9V1298.7ZM1129.2,1298.7V1296.5H1130.5V1298.7ZM1159.2,1298.7V1297.7H1160.0V1298.7ZM1196.7,1298.7V1297.7H1198.0V1298.7ZM1212.5,1298.7V1295.7H1213.7V1298.7ZM1238.0,1298.7V1293.7H1239.0V1298.7ZM1257.5,1298.7V1294.2H1259.5V1298.7ZM1305.8,1298.7V1289.7H1306.9V1298.7ZM1344.9,1298.7V1276.7H1346.4V1298.7ZM1383.2,1298.7V1277.7H1384.7V1298.7ZM1396.0,1298.7V1284.7H1398.4V1298.7Z" fill="#1c5aa6"/>
<path d="M318.9,1298.7H1398.8" stroke="#4a6fc4" stroke-width="1.0" fill="none"/>
<text x="313.42" y="1277.40" font-size="8.1" textLength="31.86" lengthAdjust="spacingAndGlyphs" fill="#444">[0–100]</text>
<path d="M327.0,1328.2V1308.5H328.7V1328.2ZM355.9,1328.2V1306.1H358.0V1328.2ZM360.2,1328.2V1307.6H362.3V1328.2ZM404.2,1328.2V1304.7H405.8V1328.2ZM407.5,1328.2V1306.0H408.4V1328.2ZM408.4,1328.2V1305.3H409.8V1328.2ZM426.7,1328.2V1312.8H428.4V1328.2ZM445.4,1328.2V1308.4H447.0V1328.2ZM504.7,1328.2V1312.4H506.3V1328.2ZM586.4,1328.2V1312.1H588.0V1328.2ZM615.3,1328.2V1323.3H617.0V1328.2ZM617.0,1328.2V1320.5H618.8V1328.2ZM660.3,1328.2V1313.3H661.0V1328.2ZM661.0,1328.2V1320.2H662.0V1328.2ZM662.0,1328.2V1324.6H662.9V1328.2ZM694.4,1328.2V1324.2H695.8V1328.2ZM702.5,1328.2V1318.3H703.5V1328.2ZM703.5,1328.2V1320.0H704.7V1328.2ZM707.3,1328.2V1321.4H708.0V1328.2ZM708.0,1328.2V1323.4H708.8V1328.2ZM785.0,1328.2V1315.2H786.2V1328.2ZM796.2,1328.2V1322.0H798.0V1328.2ZM798.0,1328.2V1320.3H799.0V1328.2ZM799.0,1328.2V1317.6H800.0V1328.2ZM817.0,1328.2V1325.6H818.0V1328.2ZM822.2,1328.2V1325.7H824.2V1328.2ZM825.3,1328.2V1325.5H827.0V1328.2ZM830.0,1328.2V1324.7H832.0V1328.2ZM873.5,1328.2V1327.3H876.0V1328.2ZM906.2,1328.2V1324.4H908.3V1328.2ZM909.2,1328.2V1323.9H910.8V1328.2ZM921.2,1328.2V1325.0H922.3V1328.2ZM922.6,1328.2V1325.5H923.7V1328.2ZM924.0,1328.2V1325.1H925.1V1328.2ZM925.4,1328.2V1325.4H926.4V1328.2ZM928.8,1328.2V1325.6H930.0V1328.2ZM937.5,1328.2V1326.4H939.2V1328.2ZM940.3,1328.2V1324.7H942.0V1328.2ZM943.0,1328.2V1326.9H944.0V1328.2ZM951.7,1328.2V1317.0H954.2V1328.2ZM954.7,1328.2V1320.6H955.8V1328.2ZM956.3,1328.2V1324.5H957.5V1328.2ZM957.8,1328.2V1325.0H959.0V1328.2ZM959.3,1328.2V1324.6H960.5V1328.2ZM963.8,1328.2V1324.1H965.0V1328.2ZM965.3,1328.2V1324.4H966.5V1328.2ZM966.8,1328.2V1324.0H968.0V1328.2ZM970.8,1328.2V1326.3H973.0V1328.2ZM977.0,1328.2V1325.7H978.8V1328.2ZM979.1,1328.2V1325.9H980.9V1328.2ZM983.8,1328.2V1321.5H985.1V1328.2ZM985.4,1328.2V1321.3H986.7V1328.2ZM987.5,1328.2V1324.9H988.9V1328.2ZM989.1,1328.2V1325.2H990.5V1328.2ZM993.0,1328.2V1320.7H994.0V1328.2ZM1002.0,1328.2V1326.0H1004.2V1328.2ZM1005.0,1328.2V1322.6H1007.0V1328.2ZM1012.2,1328.2V1324.6H1013.3V1328.2ZM1013.6,1328.2V1324.9H1014.7V1328.2ZM1020.0,1328.2V1323.6H1022.0V1328.2ZM1022.5,1328.2V1326.1H1023.5V1328.2ZM1027.0,1328.2V1324.7H1029.2V1328.2ZM1029.2,1328.2V1326.7H1030.8V1328.2ZM1040.3,1328.2V1326.1H1042.0V1328.2ZM1051.3,1328.2V1326.7H1053.3V1328.2ZM1059.2,1328.2V1326.6H1060.5V1328.2ZM1066.2,1328.2V1325.4H1067.8V1328.2ZM1071.3,1328.2V1324.8H1073.0V1328.2ZM1077.0,1328.2V1324.8H1078.7V1328.2ZM1084.2,1328.2V1323.6H1085.5V1328.2ZM1085.8,1328.2V1324.5H1087.2V1328.2ZM1088.3,1328.2V1326.4H1090.8V1328.2ZM1104.7,1328.2V1325.5H1106.0V1328.2ZM1112.5,1328.2V1320.2H1113.7V1328.2ZM1113.7,1328.2V1323.3H1115.0V1328.2ZM1117.5,1328.2V1325.4H1118.8V1328.2ZM1127.5,1328.2V1326.2H1128.9V1328.2ZM1129.2,1328.2V1326.1H1130.5V1328.2ZM1159.2,1328.2V1327.2H1160.0V1328.2ZM1196.7,1328.2V1327.2H1198.0V1328.2ZM1212.5,1328.2V1325.0H1213.7V1328.2ZM1238.0,1328.2V1324.0H1239.0V1328.2ZM1257.5,1328.2V1323.3H1259.5V1328.2ZM1305.8,1328.2V1320.0H1306.9V1328.2ZM1344.9,1328.2V1309.6H1346.4V1328.2ZM1383.2,1328.2V1309.0H1384.7V1328.2ZM1396.0,1328.2V1313.0H1398.4V1328.2Z" fill="#1c5aa6"/>
<path d="M318.9,1328.2H1398.8" stroke="#b9c9f4" stroke-width="2.0" fill="none"/>
<text x="313.42" y="1306.90" font-size="8.1" textLength="31.86" lengthAdjust="spacingAndGlyphs" fill="#444">[0–100]</text>
<path d="M327.0,1357.9V1337.8H328.7V1357.9ZM355.9,1357.9V1334.4H358.0V1357.9ZM360.2,1357.9V1334.4H362.3V1357.9ZM404.2,1357.9V1335.4H405.8V1357.9ZM407.5,1357.9V1339.7H408.4V1357.9ZM408.4,1357.9V1335.6H409.8V1357.9ZM426.7,1357.9V1339.8H428.4V1357.9ZM445.4,1357.9V1339.3H447.0V1357.9ZM504.7,1357.9V1340.2H506.3V1357.9ZM586.4,1357.9V1340.0H588.0V1357.9ZM615.3,1357.9V1352.8H617.0V1357.9ZM617.0,1357.9V1350.9H618.8V1357.9ZM660.3,1357.9V1344.2H661.0V1357.9ZM661.0,1357.9V1349.2H662.0V1357.9ZM662.0,1357.9V1354.2H662.9V1357.9ZM694.4,1357.9V1353.8H695.8V1357.9ZM702.5,1357.9V1348.0H703.5V1357.9ZM703.5,1357.9V1350.3H704.7V1357.9ZM707.3,1357.9V1350.6H708.0V1357.9ZM708.0,1357.9V1352.6H708.8V1357.9ZM785.0,1357.9V1342.7H786.2V1357.9ZM796.2,1357.9V1349.9H798.0V1357.9ZM798.0,1357.9V1350.0H799.0V1357.9ZM799.0,1357.9V1346.1H800.0V1357.9ZM817.0,1357.9V1355.4H818.0V1357.9ZM822.2,1357.9V1355.4H824.2V1357.9ZM825.3,1357.9V1355.7H827.0V1357.9ZM830.0,1357.9V1354.1H832.0V1357.9ZM873.5,1357.9V1357.2H876.0V1357.9ZM906.2,1357.9V1354.0H908.3V1357.9ZM909.2,1357.9V1352.7H910.8V1357.9ZM921.2,1357.9V1355.3H922.3V1357.9ZM922.6,1357.9V1355.3H923.7V1357.9ZM924.0,1357.9V1355.5H925.1V1357.9ZM925.4,1357.9V1355.5H926.4V1357.9ZM928.8,1357.9V1354.6H930.0V1357.9ZM937.5,1357.9V1355.9H939.2V1357.9ZM940.3,1357.9V1354.7H942.0V1357.9ZM943.0,1357.9V1356.5H944.0V1357.9ZM951.7,1357.9V1348.9H954.2V1357.9ZM954.7,1357.9V1350.1H955.8V1357.9ZM956.3,1357.9V1355.3H957.5V1357.9ZM957.8,1357.9V1354.9H959.0V1357.9ZM959.3,1357.9V1354.6H960.5V1357.9ZM963.8,1357.9V1353.9H965.0V1357.9ZM965.3,1357.9V1354.6H966.5V1357.9ZM966.8,1357.9V1354.5H968.0V1357.9ZM970.8,1357.9V1356.4H973.0V1357.9ZM977.0,1357.9V1354.7H978.8V1357.9ZM979.1,1357.9V1354.9H980.9V1357.9ZM983.8,1357.9V1350.3H985.1V1357.9ZM985.4,1357.9V1350.2H986.7V1357.9ZM987.5,1357.9V1354.7H988.9V1357.9ZM989.1,1357.9V1355.4H990.5V1357.9ZM993.0,1357.9V1350.4H994.0V1357.9ZM1002.0,1357.9V1355.9H1004.2V1357.9ZM1005.0,1357.9V1352.2H1007.0V1357.9ZM1012.2,1357.9V1354.7H1013.3V1357.9ZM1013.6,1357.9V1354.7H1014.7V1357.9ZM1020.0,1357.9V1354.3H1022.0V1357.9ZM1022.5,1357.9V1355.6H1023.5V1357.9ZM1027.0,1357.9V1354.6H1029.2V1357.9ZM1029.2,1357.9V1356.5H1030.8V1357.9ZM1040.3,1357.9V1355.8H1042.0V1357.9ZM1051.3,1357.9V1356.2H1053.3V1357.9ZM1059.2,1357.9V1356.2H1060.5V1357.9ZM1066.2,1357.9V1354.8H1067.8V1357.9ZM1071.3,1357.9V1355.3H1073.0V1357.9ZM1077.0,1357.9V1354.8H1078.7V1357.9ZM1084.2,1357.9V1354.4H1085.5V1357.9ZM1085.8,1357.9V1354.3H1087.2V1357.9ZM1088.3,1357.9V1356.0H1090.8V1357.9ZM1104.7,1357.9V1355.8H1106.0V1357.9ZM1112.5,1357.9V1349.2H1113.7V1357.9ZM1113.7,1357.9V1351.2H1115.0V1357.9ZM1117.5,1357.9V1355.7H1118.8V1357.9ZM1127.5,1357.9V1355.9H1128.9V1357.9ZM1129.2,1357.9V1355.8H1130.5V1357.9ZM1159.2,1357.9V1356.8H1160.0V1357.9ZM1196.7,1357.9V1356.8H1198.0V1357.9ZM1212.5,1357.9V1355.1H1213.7V1357.9ZM1238.0,1357.9V1353.1H1239.0V1357.9ZM1257.5,1357.9V1353.6H1259.5V1357.9ZM1305.8,1357.9V1347.3H1306.9V1357.9ZM1344.9,1357.9V1335.2H1346.4V1357.9ZM1383.2,1357.9V1338.0H1384.7V1357.9ZM1396.0,1357.9V1344.3H1398.4V1357.9Z" fill="#1c5aa6"/>
<path d="M318.9,1357.9H1398.8" stroke="#d3f3f8" stroke-width="1.0" fill="none"/>
<text x="313.42" y="1336.60" font-size="8.1" textLength="31.86" lengthAdjust="spacingAndGlyphs" fill="#444">[0–100]</text>
<path d="M327.0,1387.8V1367.1H328.7V1387.8ZM355.9,1387.8V1369.0H358.0V1387.8ZM360.2,1387.8V1368.5H362.3V1387.8ZM404.2,1387.8V1364.3H405.8V1387.8ZM407.5,1387.8V1370.3H408.4V1387.8ZM408.4,1387.8V1364.3H409.8V1387.8ZM426.7,1387.8V1372.3H428.4V1387.8ZM445.4,1387.8V1372.2H447.0V1387.8ZM504.7,1387.8V1370.7H506.3V1387.8ZM586.4,1387.8V1372.7H588.0V1387.8ZM615.3,1387.8V1382.1H617.0V1387.8ZM617.0,1387.8V1378.5H618.8V1387.8ZM660.3,1387.8V1370.7H661.0V1387.8ZM661.0,1387.8V1378.9H662.0V1387.8ZM662.0,1387.8V1383.6H662.9V1387.8ZM694.4,1387.8V1383.2H695.8V1387.8ZM702.5,1387.8V1373.9H703.5V1387.8ZM703.5,1387.8V1378.6H704.7V1387.8ZM707.3,1387.8V1379.2H708.0V1387.8ZM708.0,1387.8V1383.6H708.8V1387.8ZM785.0,1387.8V1372.4H786.2V1387.8ZM796.2,1387.8V1380.4H798.0V1387.8ZM798.0,1387.8V1378.5H799.0V1387.8ZM799.0,1387.8V1375.5H800.0V1387.8ZM817.0,1387.8V1385.5H818.0V1387.8ZM822.2,1387.8V1385.7H824.2V1387.8ZM825.3,1387.8V1384.9H827.0V1387.8ZM830.0,1387.8V1384.9H832.0V1387.8ZM873.5,1387.8V1387.0H876.0V1387.8ZM906.2,1387.8V1384.7H908.3V1387.8ZM909.2,1387.8V1383.6H910.8V1387.8ZM921.2,1387.8V1384.2H922.3V1387.8ZM922.6,1387.8V1384.2H923.7V1387.8ZM924.0,1387.8V1385.3H925.1V1387.8ZM925.4,1387.8V1385.2H926.4V1387.8ZM928.8,1387.8V1385.1H930.0V1387.8ZM937.5,1387.8V1386.0H939.2V1387.8ZM940.3,1387.8V1384.7H942.0V1387.8ZM943.0,1387.8V1386.3H944.0V1387.8ZM951.7,1387.8V1378.2H954.2V1387.8ZM954.7,1387.8V1381.9H955.8V1387.8ZM956.3,1387.8V1384.9H957.5V1387.8ZM957.8,1387.8V1384.8H959.0V1387.8ZM959.3,1387.8V1385.0H960.5V1387.8ZM963.8,1387.8V1384.4H965.0V1387.8ZM965.3,1387.8V1385.0H966.5V1387.8ZM966.8,1387.8V1384.7H968.0V1387.8ZM970.8,1387.8V1385.9H973.0V1387.8ZM977.0,1387.8V1384.6H978.8V1387.8ZM979.1,1387.8V1384.7H980.9V1387.8ZM983.8,1387.8V1382.2H985.1V1387.8ZM985.4,1387.8V1382.2H986.7V1387.8ZM987.5,1387.8V1383.8H988.9V1387.8ZM989.1,1387.8V1384.6H990.5V1387.8ZM993.0,1387.8V1379.9H994.0V1387.8ZM1002.0,1387.8V1385.8H1004.2V1387.8ZM1005.0,1387.8V1383.4H1007.0V1387.8ZM1012.2,1387.8V1384.6H1013.3V1387.8ZM1013.6,1387.8V1384.9H1014.7V1387.8ZM1020.0,1387.8V1384.4H1022.0V1387.8ZM1022.5,1387.8V1385.9H1023.5V1387.8ZM1027.0,1387.8V1385.0H1029.2V1387.8ZM1029.2,1387.8V1386.3H1030.8V1387.8ZM1040.3,1387.8V1385.5H1042.0V1387.8ZM1051.3,1387.8V1386.1H1053.3V1387.8ZM1059.2,1387.8V1385.9H1060.5V1387.8ZM1066.2,1387.8V1384.2H1067.8V1387.8ZM1071.3,1387.8V1384.9H1073.0V1387.8ZM1077.0,1387.8V1384.6H1078.7V1387.8ZM1084.2,1387.8V1383.5H1085.5V1387.8ZM1085.8,1387.8V1383.5H1087.2V1387.8ZM1088.3,1387.8V1386.2H1090.8V1387.8ZM1104.7,1387.8V1385.4H1106.0V1387.8ZM1112.5,1387.8V1381.1H1113.7V1387.8ZM1113.7,1387.8V1382.3H1115.0V1387.8ZM1117.5,1387.8V1384.9H1118.8V1387.8ZM1127.5,1387.8V1386.2H1128.9V1387.8ZM1129.2,1387.8V1386.0H1130.5V1387.8ZM1159.2,1387.8V1386.8H1160.0V1387.8ZM1196.7,1387.8V1386.8H1198.0V1387.8ZM1212.5,1387.8V1384.4H1213.7V1387.8ZM1238.0,1387.8V1383.3H1239.0V1387.8ZM1257.5,1387.8V1383.7H1259.5V1387.8ZM1305.8,1387.8V1379.6H1306.9V1387.8ZM1344.9,1387.8V1366.6H1346.4V1387.8ZM1383.2,1387.8V1367.2H1384.7V1387.8ZM1396.0,1387.8V1371.5H1398.4V1387.8Z" fill="#1c5aa6"/>
<path d="M318.9,1387.8H1398.8" stroke="#1c5aa6" stroke-width="1.3" fill="none"/>
<text x="313.42" y="1366.50" font-size="8.1" textLength="31.86" lengthAdjust="spacingAndGlyphs" fill="#444">[0–100]</text>
<path d="M327.0,1417.5V1394.0H328.7V1417.5ZM355.9,1417.5V1394.0H358.0V1417.5ZM360.2,1417.5V1398.9H362.3V1417.5ZM404.2,1417.5V1398.8H405.8V1417.5ZM407.5,1417.5V1397.1H408.4V1417.5ZM408.4,1417.5V1394.0H409.8V1417.5ZM426.7,1417.5V1400.7H428.4V1417.5ZM445.4,1417.5V1400.0H447.0V1417.5ZM504.7,1417.5V1403.6H506.3V1417.5ZM586.4,1417.5V1401.2H588.0V1417.5ZM615.3,1417.5V1410.6H617.0V1417.5ZM617.0,1417.5V1408.6H618.8V1417.5ZM660.3,1417.5V1400.6H661.0V1417.5ZM661.0,1417.5V1408.1H662.0V1417.5ZM662.0,1417.5V1413.9H662.9V1417.5ZM694.4,1417.5V1414.1H695.8V1417.5ZM702.5,1417.5V1407.0H703.5V1417.5ZM703.5,1417.5V1408.4H704.7V1417.5ZM707.3,1417.5V1409.0H708.0V1417.5ZM708.0,1417.5V1411.7H708.8V1417.5ZM785.0,1417.5V1402.2H786.2V1417.5ZM796.2,1417.5V1409.6H798.0V1417.5ZM798.0,1417.5V1408.2H799.0V1417.5ZM799.0,1417.5V1406.0H800.0V1417.5ZM817.0,1417.5V1415.0H818.0V1417.5ZM822.2,1417.5V1415.4H824.2V1417.5ZM825.3,1417.5V1414.7H827.0V1417.5ZM830.0,1417.5V1414.5H832.0V1417.5ZM873.5,1417.5V1416.6H876.0V1417.5ZM906.2,1417.5V1414.0H908.3V1417.5ZM909.2,1417.5V1413.3H910.8V1417.5ZM921.2,1417.5V1414.9H922.3V1417.5ZM922.6,1417.5V1414.6H923.7V1417.5ZM924.0,1417.5V1415.4H925.1V1417.5ZM925.4,1417.5V1415.4H926.4V1417.5ZM928.8,1417.5V1414.4H930.0V1417.5ZM937.5,1417.5V1415.7H939.2V1417.5ZM940.3,1417.5V1414.7H942.0V1417.5ZM943.0,1417.5V1416.2H944.0V1417.5ZM951.7,1417.5V1407.4H954.2V1417.5ZM954.7,1417.5V1410.6H955.8V1417.5ZM956.3,1417.5V1414.3H957.5V1417.5ZM957.8,1417.5V1414.0H959.0V1417.5ZM959.3,1417.5V1414.4H960.5V1417.5ZM963.8,1417.5V1414.6H965.0V1417.5ZM965.3,1417.5V1414.6H966.5V1417.5ZM966.8,1417.5V1414.5H968.0V1417.5ZM970.8,1417.5V1415.7H973.0V1417.5ZM977.0,1417.5V1415.4H978.8V1417.5ZM979.1,1417.5V1415.2H980.9V1417.5ZM983.8,1417.5V1411.7H985.1V1417.5ZM985.4,1417.5V1412.1H986.7V1417.5ZM987.5,1417.5V1414.0H988.9V1417.5ZM989.1,1417.5V1414.1H990.5V1417.5ZM993.0,1417.5V1409.7H994.0V1417.5ZM1002.0,1417.5V1415.4H1004.2V1417.5ZM1005.0,1417.5V1411.8H1007.0V1417.5ZM1012.2,1417.5V1414.6H1013.3V1417.5ZM1013.6,1417.5V1414.2H1014.7V1417.5ZM1020.0,1417.5V1413.9H1022.0V1417.5ZM1022.5,1417.5V1415.7H1023.5V1417.5ZM1027.0,1417.5V1413.7H1029.2V1417.5ZM1029.2,1417.5V1415.7H1030.8V1417.5ZM1040.3,1417.5V1415.2H1042.0V1417.5ZM1051.3,1417.5V1416.1H1053.3V1417.5ZM1059.2,1417.5V1415.8H1060.5V1417.5ZM1066.2,1417.5V1414.0H1067.8V1417.5ZM1071.3,1417.5V1414.6H1073.0V1417.5ZM1077.0,1417.5V1414.5H1078.7V1417.5ZM1084.2,1417.5V1413.6H1085.5V1417.5ZM1085.8,1417.5V1413.7H1087.2V1417.5ZM1088.3,1417.5V1415.5H1090.8V1417.5ZM1104.7,1417.5V1415.2H1106.0V1417.5ZM1112.5,1417.5V1410.8H1113.7V1417.5ZM1113.7,1417.5V1411.8H1115.0V1417.5ZM1117.5,1417.5V1415.1H1118.8V1417.5ZM1127.5,1417.5V1415.2H1128.9V1417.5ZM1129.2,1417.5V1415.7H1130.5V1417.5ZM1159.2,1417.5V1416.6H1160.0V1417.5ZM1196.7,1417.5V1416.4H1198.0V1417.5ZM1212.5,1417.5V1414.2H1213.7V1417.5ZM1238.0,1417.5V1412.5H1239.0V1417.5ZM1257.5,1417.5V1413.5H1259.5V1417.5ZM1305.8,1417.5V1407.0H1306.9V1417.5ZM1344.9,1417.5V1397.0H1346.4V1417.5ZM1383.2,1417.5V1394.1H1384.7V1417.5ZM1396.0,1417.5V1404.5H1398.4V1417.5Z" fill="#1c5aa6"/>
<path d="M318.9,1417.5H1398.8" stroke="#2a69b6" stroke-width="1.3" fill="none"/>
<text x="313.42" y="1396.20" font-size="8.1" textLength="31.86" lengthAdjust="spacingAndGlyphs" fill="#444">[0–100]</text>
</svg>
</body>
</html>
